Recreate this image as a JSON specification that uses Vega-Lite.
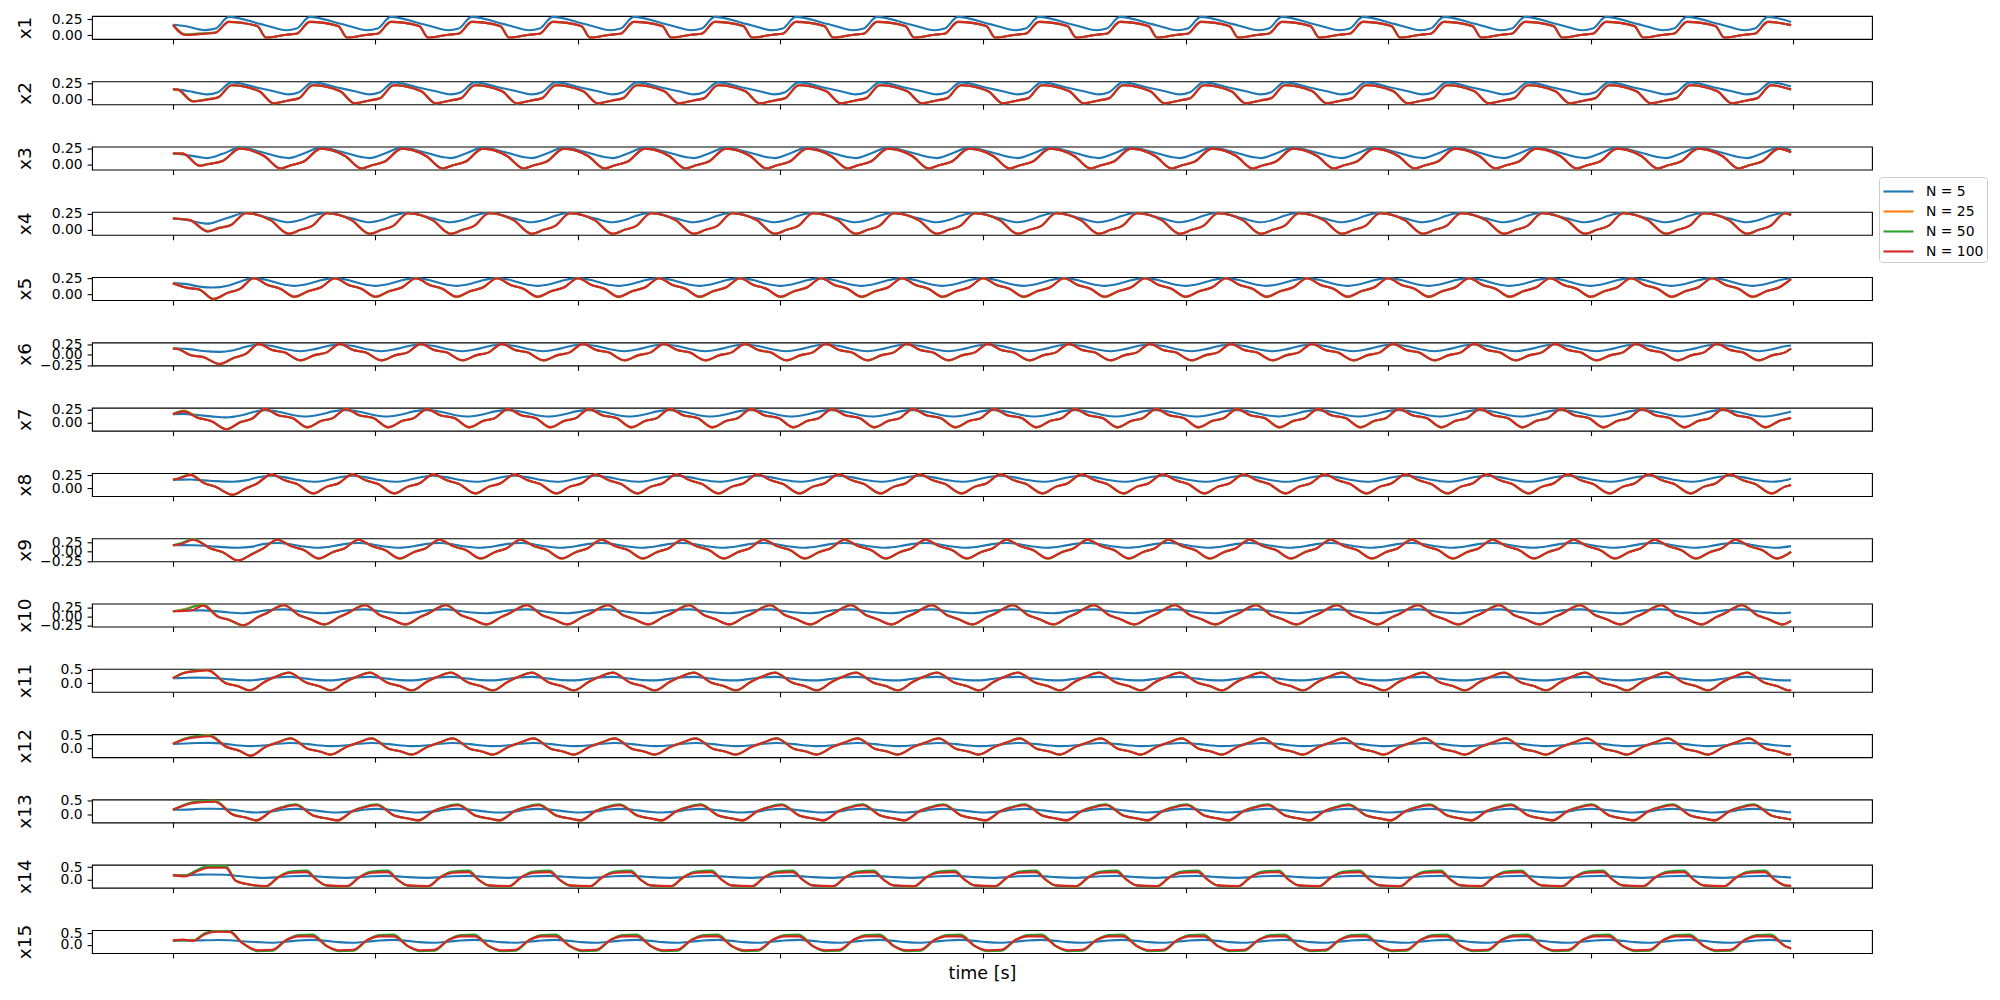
{
"$schema":"https://vega.github.io/schema/vega-lite/v6.json",
"background":"white",
"padding":{"left":14,"top":11,"right":10,"bottom":10},
"bounds":"flush",
"spacing":42.29,
"config":{
"font":"DejaVu Sans",
"view":{"stroke":"black","strokeWidth":1.1},
"axis":{"domain":false,"grid":false,"labelOverlap":false,"tickColor":"black","tickWidth":1.1,"tickSize":4.9,"labelFont":"DejaVu Sans","labelFontSize":13.9,"labelColor":"black","labelPadding":4.9,"titleFont":"DejaVu Sans","titleFontWeight":"normal","titleColor":"black","titleFontSize":17.5},
"axisY":{"titleX":-68,"titleY":11.5,"titleAngle":270,"titleAlign":"center","titleBaseline":"middle","titleFontSize":18.5},
"axisX":{"titlePadding":6},
"line":{"strokeWidth":2.1,"interpolate":"monotone"},
"legend":{"orient":"none","legendX":1787,"legendY":161,"symbolType":"M-1,0H2","symbolSize":400,"symbolStrokeWidth":2.1,"labelFont":"DejaVu Sans","labelFontSize":13.9,"labelColor":"black","labelOffset":21,"rowPadding":1,"padding":3,"strokeColor":"#cccccc","fillColor":"white","cornerRadius":3}
},
"data":{"values":[
{"v":"x1",
"t":[0,0.3,0.8,1.05,1.38,2.08,2.3,2.8,3.05,3.38,4.08,4.3,4.8,5.05,5.38,6.08,6.3,6.8,7.05,7.38,8.08,8.3,8.8,9.05,9.38,10.08,10.3,10.8,11.05,11.38,12.08,12.3,12.8,13.05,13.38,14.08,14.3,14.8,15.05,15.38,16.08,16.3,16.8,17.05,17.38,18.08,18.3,18.8,19.05,19.38,20.08,20.3,20.8,21.05,21.38,22.08,22.3,22.8,23.05,23.38,24.08,24.3,24.8,25.05,25.38,26.08,26.3,26.8,27.05,27.38,28.08,28.3,28.8,29.05,29.38,30.08,30.3,30.8,31.05,31.38,32.08,32.3,32.8,33.05,33.38,34.08,34.3,34.8,35.05,35.38,36.08,36.3,36.8,37.05,37.38,38.08,38.3,38.8,39.05,39.38,39.95],
"N = 5":[0.16,0.14,0.077,0.1,0.283,0.185,0.15,0.075,0.1,0.283,0.185,0.15,0.075,0.1,0.283,0.185,0.15,0.075,0.1,0.283,0.185,0.15,0.075,0.1,0.283,0.185,0.15,0.075,0.1,0.283,0.185,0.15,0.075,0.1,0.283,0.185,0.15,0.075,0.1,0.283,0.185,0.15,0.075,0.1,0.283,0.185,0.15,0.075,0.1,0.283,0.185,0.15,0.075,0.1,0.283,0.185,0.15,0.075,0.1,0.283,0.185,0.15,0.075,0.1,0.283,0.185,0.15,0.075,0.1,0.283,0.185,0.15,0.075,0.1,0.283,0.185,0.15,0.075,0.1,0.283,0.185,0.15,0.075,0.1,0.283,0.185,0.15,0.075,0.1,0.283,0.185,0.15,0.075,0.1,0.283,0.185,0.15,0.075,0.1,0.283,0.204],
"N = 25":[0.16,0.01,0.028,0.04,0.205,0.142,-0.04,0.005,0.02,0.205,0.142,-0.04,0.005,0.02,0.205,0.142,-0.04,0.005,0.02,0.205,0.142,-0.04,0.005,0.02,0.205,0.142,-0.04,0.005,0.02,0.205,0.142,-0.04,0.005,0.02,0.205,0.142,-0.04,0.005,0.02,0.205,0.142,-0.04,0.005,0.02,0.205,0.142,-0.04,0.005,0.02,0.205,0.142,-0.04,0.005,0.02,0.205,0.142,-0.04,0.005,0.02,0.205,0.142,-0.04,0.005,0.02,0.205,0.142,-0.04,0.005,0.02,0.205,0.142,-0.04,0.005,0.02,0.205,0.142,-0.04,0.005,0.02,0.205,0.142,-0.04,0.005,0.02,0.205,0.142,-0.04,0.005,0.02,0.205,0.142,-0.04,0.005,0.02,0.205,0.142,-0.04,0.005,0.02,0.205,0.154],
"N = 50":[0.16,0.008,0.025,0.038,0.205,0.142,-0.04,0.005,0.02,0.205,0.142,-0.04,0.005,0.02,0.205,0.142,-0.04,0.005,0.02,0.205,0.142,-0.04,0.005,0.02,0.205,0.142,-0.04,0.005,0.02,0.205,0.142,-0.04,0.005,0.02,0.205,0.142,-0.04,0.005,0.02,0.205,0.142,-0.04,0.005,0.02,0.205,0.142,-0.04,0.005,0.02,0.205,0.142,-0.04,0.005,0.02,0.205,0.142,-0.04,0.005,0.02,0.205,0.142,-0.04,0.005,0.02,0.205,0.142,-0.04,0.005,0.02,0.205,0.142,-0.04,0.005,0.02,0.205,0.142,-0.04,0.005,0.02,0.205,0.142,-0.04,0.005,0.02,0.205,0.142,-0.04,0.005,0.02,0.205,0.142,-0.04,0.005,0.02,0.205,0.142,-0.04,0.005,0.02,0.205,0.154],
"N = 100":[0.16,0,0.02,0.035,0.205,0.142,-0.04,0.005,0.02,0.205,0.142,-0.04,0.005,0.02,0.205,0.142,-0.04,0.005,0.02,0.205,0.142,-0.04,0.005,0.02,0.205,0.142,-0.04,0.005,0.02,0.205,0.142,-0.04,0.005,0.02,0.205,0.142,-0.04,0.005,0.02,0.205,0.142,-0.04,0.005,0.02,0.205,0.142,-0.04,0.005,0.02,0.205,0.142,-0.04,0.005,0.02,0.205,0.142,-0.04,0.005,0.02,0.205,0.142,-0.04,0.005,0.02,0.205,0.142,-0.04,0.005,0.02,0.205,0.142,-0.04,0.005,0.02,0.205,0.142,-0.04,0.005,0.02,0.205,0.142,-0.04,0.005,0.02,0.205,0.142,-0.04,0.005,0.02,0.205,0.142,-0.04,0.005,0.02,0.205,0.142,-0.04,0.005,0.02,0.205,0.154]},
{"v":"x2",
"t":[0,0.12,0.49,0.85,1.11,1.45,2.12,2.49,2.85,3.11,3.45,4.12,4.49,4.85,5.11,5.45,6.12,6.49,6.85,7.11,7.45,8.12,8.49,8.85,9.11,9.45,10.12,10.49,10.85,11.11,11.45,12.12,12.49,12.85,13.11,13.45,14.12,14.49,14.85,15.11,15.45,16.12,16.49,16.85,17.11,17.45,18.12,18.49,18.85,19.11,19.45,20.12,20.49,20.85,21.11,21.45,22.12,22.49,22.85,23.11,23.45,24.12,24.49,24.85,25.11,25.45,26.12,26.49,26.85,27.11,27.45,28.12,28.49,28.85,29.11,29.45,30.12,30.49,30.85,31.11,31.45,32.12,32.49,32.85,33.11,33.45,34.12,34.49,34.85,35.11,35.45,36.12,36.49,36.85,37.11,37.45,38.12,38.49,38.85,39.11,39.45,39.95],
"N = 5":[0.16,0.155,0.12,0.08,0.115,0.27,0.18,0.129,0.08,0.115,0.27,0.18,0.129,0.08,0.115,0.27,0.18,0.129,0.08,0.115,0.27,0.18,0.129,0.08,0.115,0.27,0.18,0.129,0.08,0.115,0.27,0.18,0.129,0.08,0.115,0.27,0.18,0.129,0.08,0.115,0.27,0.18,0.129,0.08,0.115,0.27,0.18,0.129,0.08,0.115,0.27,0.18,0.129,0.08,0.115,0.27,0.18,0.129,0.08,0.115,0.27,0.18,0.129,0.08,0.115,0.27,0.18,0.129,0.08,0.115,0.27,0.18,0.129,0.08,0.115,0.27,0.18,0.129,0.08,0.115,0.27,0.18,0.129,0.08,0.115,0.27,0.18,0.129,0.08,0.115,0.27,0.18,0.129,0.08,0.115,0.27,0.18,0.129,0.08,0.115,0.27,0.203],
"N = 25":[0.16,0.155,-0.025,0.005,0.034,0.225,0.134,-0.062,-0.016,0.018,0.225,0.134,-0.062,-0.016,0.018,0.225,0.134,-0.062,-0.016,0.018,0.225,0.134,-0.062,-0.016,0.018,0.225,0.134,-0.062,-0.016,0.018,0.225,0.134,-0.062,-0.016,0.018,0.225,0.134,-0.062,-0.016,0.018,0.225,0.134,-0.062,-0.016,0.018,0.225,0.134,-0.062,-0.016,0.018,0.225,0.134,-0.062,-0.016,0.018,0.225,0.134,-0.062,-0.016,0.018,0.225,0.134,-0.062,-0.016,0.018,0.225,0.134,-0.062,-0.016,0.018,0.225,0.134,-0.062,-0.016,0.018,0.225,0.134,-0.062,-0.016,0.018,0.225,0.134,-0.062,-0.016,0.018,0.225,0.134,-0.062,-0.016,0.018,0.225,0.134,-0.062,-0.016,0.018,0.225,0.134,-0.062,-0.016,0.018,0.225,0.157],
"N = 50":[0.16,0.155,-0.028,0.002,0.03,0.225,0.134,-0.062,-0.016,0.018,0.225,0.134,-0.062,-0.016,0.018,0.225,0.134,-0.062,-0.016,0.018,0.225,0.134,-0.062,-0.016,0.018,0.225,0.134,-0.062,-0.016,0.018,0.225,0.134,-0.062,-0.016,0.018,0.225,0.134,-0.062,-0.016,0.018,0.225,0.134,-0.062,-0.016,0.018,0.225,0.134,-0.062,-0.016,0.018,0.225,0.134,-0.062,-0.016,0.018,0.225,0.134,-0.062,-0.016,0.018,0.225,0.134,-0.062,-0.016,0.018,0.225,0.134,-0.062,-0.016,0.018,0.225,0.134,-0.062,-0.016,0.018,0.225,0.134,-0.062,-0.016,0.018,0.225,0.134,-0.062,-0.016,0.018,0.225,0.134,-0.062,-0.016,0.018,0.225,0.134,-0.062,-0.016,0.018,0.225,0.134,-0.062,-0.016,0.018,0.225,0.157],
"N = 100":[0.16,0.155,-0.033,-0.005,0.029,0.225,0.134,-0.062,-0.016,0.018,0.225,0.134,-0.062,-0.016,0.018,0.225,0.134,-0.062,-0.016,0.018,0.225,0.134,-0.062,-0.016,0.018,0.225,0.134,-0.062,-0.016,0.018,0.225,0.134,-0.062,-0.016,0.018,0.225,0.134,-0.062,-0.016,0.018,0.225,0.134,-0.062,-0.016,0.018,0.225,0.134,-0.062,-0.016,0.018,0.225,0.134,-0.062,-0.016,0.018,0.225,0.134,-0.062,-0.016,0.018,0.225,0.134,-0.062,-0.016,0.018,0.225,0.134,-0.062,-0.016,0.018,0.225,0.134,-0.062,-0.016,0.018,0.225,0.134,-0.062,-0.016,0.018,0.225,0.134,-0.062,-0.016,0.018,0.225,0.134,-0.062,-0.016,0.018,0.225,0.134,-0.062,-0.016,0.018,0.225,0.134,-0.062,-0.016,0.018,0.225,0.157]},
{"v":"x3",
"t":[0,0.25,0.66,0.86,1.23,1.65,2.25,2.66,2.86,3.23,3.65,4.25,4.66,4.86,5.23,5.65,6.25,6.66,6.86,7.23,7.65,8.25,8.66,8.86,9.23,9.65,10.25,10.66,10.86,11.23,11.65,12.25,12.66,12.86,13.23,13.65,14.25,14.66,14.86,15.23,15.65,16.25,16.66,16.86,17.23,17.65,18.25,18.66,18.86,19.23,19.65,20.25,20.66,20.86,21.23,21.65,22.25,22.66,22.86,23.23,23.65,24.25,24.66,24.86,25.23,25.65,26.25,26.66,26.86,27.23,27.65,28.25,28.66,28.86,29.23,29.65,30.25,30.66,30.86,31.23,31.65,32.25,32.66,32.86,33.23,33.65,34.25,34.66,34.86,35.23,35.65,36.25,36.66,36.86,37.23,37.65,38.25,38.66,38.86,39.23,39.65,39.95],
"N = 5":[0.17,0.155,0.115,0.1,0.165,0.26,0.182,0.115,0.1,0.17,0.26,0.182,0.115,0.1,0.17,0.26,0.182,0.115,0.1,0.17,0.26,0.182,0.115,0.1,0.17,0.26,0.182,0.115,0.1,0.17,0.26,0.182,0.115,0.1,0.17,0.26,0.182,0.115,0.1,0.17,0.26,0.182,0.115,0.1,0.17,0.26,0.182,0.115,0.1,0.17,0.26,0.182,0.115,0.1,0.17,0.26,0.182,0.115,0.1,0.17,0.26,0.182,0.115,0.1,0.17,0.26,0.182,0.115,0.1,0.17,0.26,0.182,0.115,0.1,0.17,0.26,0.182,0.115,0.1,0.17,0.26,0.182,0.115,0.1,0.17,0.26,0.182,0.115,0.1,0.17,0.26,0.182,0.115,0.1,0.17,0.26,0.182,0.115,0.1,0.17,0.26,0.221],
"N = 25":[0.17,0.168,-0.012,0.01,0.06,0.244,0.132,-0.06,-0.02,0.047,0.244,0.132,-0.06,-0.02,0.047,0.244,0.132,-0.06,-0.02,0.047,0.244,0.132,-0.06,-0.02,0.047,0.244,0.132,-0.06,-0.02,0.047,0.244,0.132,-0.06,-0.02,0.047,0.244,0.132,-0.06,-0.02,0.047,0.244,0.132,-0.06,-0.02,0.047,0.244,0.132,-0.06,-0.02,0.047,0.244,0.132,-0.06,-0.02,0.047,0.244,0.132,-0.06,-0.02,0.047,0.244,0.132,-0.06,-0.02,0.047,0.244,0.132,-0.06,-0.02,0.047,0.244,0.132,-0.06,-0.02,0.047,0.244,0.132,-0.06,-0.02,0.047,0.244,0.132,-0.06,-0.02,0.047,0.244,0.132,-0.06,-0.02,0.047,0.244,0.132,-0.06,-0.02,0.047,0.244,0.132,-0.06,-0.02,0.047,0.244,0.188],
"N = 50":[0.17,0.168,-0.016,0.008,0.057,0.244,0.132,-0.06,-0.02,0.047,0.244,0.132,-0.06,-0.02,0.047,0.244,0.132,-0.06,-0.02,0.047,0.244,0.132,-0.06,-0.02,0.047,0.244,0.132,-0.06,-0.02,0.047,0.244,0.132,-0.06,-0.02,0.047,0.244,0.132,-0.06,-0.02,0.047,0.244,0.132,-0.06,-0.02,0.047,0.244,0.132,-0.06,-0.02,0.047,0.244,0.132,-0.06,-0.02,0.047,0.244,0.132,-0.06,-0.02,0.047,0.244,0.132,-0.06,-0.02,0.047,0.244,0.132,-0.06,-0.02,0.047,0.244,0.132,-0.06,-0.02,0.047,0.244,0.132,-0.06,-0.02,0.047,0.244,0.132,-0.06,-0.02,0.047,0.244,0.132,-0.06,-0.02,0.047,0.244,0.132,-0.06,-0.02,0.047,0.244,0.132,-0.06,-0.02,0.047,0.244,0.188],
"N = 100":[0.17,0.168,-0.02,0.005,0.055,0.244,0.132,-0.06,-0.02,0.047,0.244,0.132,-0.06,-0.02,0.047,0.244,0.132,-0.06,-0.02,0.047,0.244,0.132,-0.06,-0.02,0.047,0.244,0.132,-0.06,-0.02,0.047,0.244,0.132,-0.06,-0.02,0.047,0.244,0.132,-0.06,-0.02,0.047,0.244,0.132,-0.06,-0.02,0.047,0.244,0.132,-0.06,-0.02,0.047,0.244,0.132,-0.06,-0.02,0.047,0.244,0.132,-0.06,-0.02,0.047,0.244,0.132,-0.06,-0.02,0.047,0.244,0.132,-0.06,-0.02,0.047,0.244,0.132,-0.06,-0.02,0.047,0.244,0.132,-0.06,-0.02,0.047,0.244,0.132,-0.06,-0.02,0.047,0.244,0.132,-0.06,-0.02,0.047,0.244,0.132,-0.06,-0.02,0.047,0.244,0.132,-0.06,-0.02,0.047,0.244,0.188]},
{"v":"x4",
"t":[0,0.41,0.86,1.15,1.44,1.8,2.41,2.86,3.15,3.44,3.8,4.41,4.86,5.15,5.44,5.8,6.41,6.86,7.15,7.44,7.8,8.41,8.86,9.15,9.44,9.8,10.41,10.86,11.15,11.44,11.8,12.41,12.86,13.15,13.44,13.8,14.41,14.86,15.15,15.44,15.8,16.41,16.86,17.15,17.44,17.8,18.41,18.86,19.15,19.44,19.8,20.41,20.86,21.15,21.44,21.8,22.41,22.86,23.15,23.44,23.8,24.41,24.86,25.15,25.44,25.8,26.41,26.86,27.15,27.44,27.8,28.41,28.86,29.15,29.44,29.8,30.41,30.86,31.15,31.44,31.8,32.41,32.86,33.15,33.44,33.8,34.41,34.86,35.15,35.44,35.8,36.41,36.86,37.15,37.44,37.8,38.41,38.86,39.15,39.44,39.8,39.95],
"N = 5":[0.171,0.14,0.091,0.14,0.2,0.262,0.174,0.113,0.147,0.215,0.262,0.174,0.113,0.147,0.215,0.262,0.174,0.113,0.147,0.215,0.262,0.174,0.113,0.147,0.215,0.262,0.174,0.113,0.147,0.215,0.262,0.174,0.113,0.147,0.215,0.262,0.174,0.113,0.147,0.215,0.262,0.174,0.113,0.147,0.215,0.262,0.174,0.113,0.147,0.215,0.262,0.174,0.113,0.147,0.215,0.262,0.174,0.113,0.147,0.215,0.262,0.174,0.113,0.147,0.215,0.262,0.174,0.113,0.147,0.215,0.262,0.174,0.113,0.147,0.215,0.262,0.174,0.113,0.147,0.215,0.262,0.174,0.113,0.147,0.215,0.262,0.174,0.113,0.147,0.215,0.262,0.174,0.113,0.147,0.215,0.262,0.174,0.113,0.147,0.215,0.262,0.24],
"N = 25":[0.171,0.15,-0.025,0.028,0.075,0.255,0.146,-0.07,-0.007,0.055,0.255,0.146,-0.07,-0.007,0.055,0.255,0.146,-0.07,-0.007,0.055,0.255,0.146,-0.07,-0.007,0.055,0.255,0.146,-0.07,-0.007,0.055,0.255,0.146,-0.07,-0.007,0.055,0.255,0.146,-0.07,-0.007,0.055,0.255,0.146,-0.07,-0.007,0.055,0.255,0.146,-0.07,-0.007,0.055,0.255,0.146,-0.07,-0.007,0.055,0.255,0.146,-0.07,-0.007,0.055,0.255,0.146,-0.07,-0.007,0.055,0.255,0.146,-0.07,-0.007,0.055,0.255,0.146,-0.07,-0.007,0.055,0.255,0.146,-0.07,-0.007,0.055,0.255,0.146,-0.07,-0.007,0.055,0.255,0.146,-0.07,-0.007,0.055,0.255,0.146,-0.07,-0.007,0.055,0.255,0.146,-0.07,-0.007,0.055,0.255,0.228],
"N = 50":[0.171,0.148,-0.03,0.024,0.072,0.255,0.146,-0.07,-0.007,0.055,0.255,0.146,-0.07,-0.007,0.055,0.255,0.146,-0.07,-0.007,0.055,0.255,0.146,-0.07,-0.007,0.055,0.255,0.146,-0.07,-0.007,0.055,0.255,0.146,-0.07,-0.007,0.055,0.255,0.146,-0.07,-0.007,0.055,0.255,0.146,-0.07,-0.007,0.055,0.255,0.146,-0.07,-0.007,0.055,0.255,0.146,-0.07,-0.007,0.055,0.255,0.146,-0.07,-0.007,0.055,0.255,0.146,-0.07,-0.007,0.055,0.255,0.146,-0.07,-0.007,0.055,0.255,0.146,-0.07,-0.007,0.055,0.255,0.146,-0.07,-0.007,0.055,0.255,0.146,-0.07,-0.007,0.055,0.255,0.146,-0.07,-0.007,0.055,0.255,0.146,-0.07,-0.007,0.055,0.255,0.146,-0.07,-0.007,0.055,0.255,0.228],
"N = 100":[0.171,0.146,-0.036,0.02,0.07,0.255,0.146,-0.07,-0.007,0.055,0.255,0.146,-0.07,-0.007,0.055,0.255,0.146,-0.07,-0.007,0.055,0.255,0.146,-0.07,-0.007,0.055,0.255,0.146,-0.07,-0.007,0.055,0.255,0.146,-0.07,-0.007,0.055,0.255,0.146,-0.07,-0.007,0.055,0.255,0.146,-0.07,-0.007,0.055,0.255,0.146,-0.07,-0.007,0.055,0.255,0.146,-0.07,-0.007,0.055,0.255,0.146,-0.07,-0.007,0.055,0.255,0.146,-0.07,-0.007,0.055,0.255,0.146,-0.07,-0.007,0.055,0.255,0.146,-0.07,-0.007,0.055,0.255,0.146,-0.07,-0.007,0.055,0.255,0.146,-0.07,-0.007,0.055,0.255,0.146,-0.07,-0.007,0.055,0.255,0.146,-0.07,-0.007,0.055,0.255,0.146,-0.07,-0.007,0.055,0.255,0.228]},
{"v":"x5",
"t":[0,0.35,0.65,1,1.35,1.65,2,2.35,2.65,3,3.35,3.65,4,4.35,4.65,5,5.35,5.65,6,6.35,6.65,7,7.35,7.65,8,8.35,8.65,9,9.35,9.65,10,10.35,10.65,11,11.35,11.65,12,12.35,12.65,13,13.35,13.65,14,14.35,14.65,15,15.35,15.65,16,16.35,16.65,17,17.35,17.65,18,18.35,18.65,19,19.35,19.65,20,20.35,20.65,21,21.35,21.65,22,22.35,22.65,23,23.35,23.65,24,24.35,24.65,25,25.35,25.65,26,26.35,26.65,27,27.35,27.65,28,28.35,28.65,29,29.35,29.65,30,30.35,30.65,31,31.35,31.65,32,32.35,32.65,33,33.35,33.65,34,34.35,34.65,35,35.35,35.65,36,36.35,36.65,37,37.35,37.65,38,38.35,38.65,39,39.35,39.65,39.95],
"N = 5":[0.176,0.16,0.12,0.106,0.135,0.2,0.257,0.223,0.166,0.132,0.166,0.223,0.257,0.223,0.166,0.132,0.166,0.223,0.257,0.223,0.166,0.132,0.166,0.223,0.257,0.223,0.166,0.132,0.166,0.223,0.257,0.223,0.166,0.132,0.166,0.223,0.257,0.223,0.166,0.132,0.166,0.223,0.257,0.223,0.166,0.132,0.166,0.223,0.257,0.223,0.166,0.132,0.166,0.223,0.257,0.223,0.166,0.132,0.166,0.223,0.257,0.223,0.166,0.132,0.166,0.223,0.257,0.223,0.166,0.132,0.166,0.223,0.257,0.223,0.166,0.132,0.166,0.223,0.257,0.223,0.166,0.132,0.166,0.223,0.257,0.223,0.166,0.132,0.166,0.223,0.257,0.223,0.166,0.132,0.166,0.223,0.257,0.223,0.166,0.132,0.166,0.223,0.257,0.223,0.166,0.132,0.166,0.223,0.257,0.223,0.166,0.132,0.166,0.223,0.257,0.223,0.166,0.132,0.166,0.223,0.255],
"N = 25":[0.176,0.105,0.075,-0.085,0.02,0.085,0.255,0.143,0.087,-0.048,0.05,0.106,0.255,0.143,0.087,-0.048,0.05,0.106,0.255,0.143,0.087,-0.048,0.05,0.106,0.255,0.143,0.087,-0.048,0.05,0.106,0.255,0.143,0.087,-0.048,0.05,0.106,0.255,0.143,0.087,-0.048,0.05,0.106,0.255,0.143,0.087,-0.048,0.05,0.106,0.255,0.143,0.087,-0.048,0.05,0.106,0.255,0.143,0.087,-0.048,0.05,0.106,0.255,0.143,0.087,-0.048,0.05,0.106,0.255,0.143,0.087,-0.048,0.05,0.106,0.255,0.143,0.087,-0.048,0.05,0.106,0.255,0.143,0.087,-0.048,0.05,0.106,0.255,0.143,0.087,-0.048,0.05,0.106,0.255,0.143,0.087,-0.048,0.05,0.106,0.255,0.143,0.087,-0.048,0.05,0.106,0.255,0.143,0.087,-0.048,0.05,0.106,0.255,0.143,0.087,-0.048,0.05,0.106,0.255,0.143,0.087,-0.048,0.05,0.106,0.24],
"N = 50":[0.176,0.102,0.075,-0.08,0.02,0.082,0.255,0.143,0.087,-0.043,0.05,0.106,0.255,0.143,0.087,-0.043,0.05,0.106,0.255,0.143,0.087,-0.043,0.05,0.106,0.255,0.143,0.087,-0.043,0.05,0.106,0.255,0.143,0.087,-0.043,0.05,0.106,0.255,0.143,0.087,-0.043,0.05,0.106,0.255,0.143,0.087,-0.043,0.05,0.106,0.255,0.143,0.087,-0.043,0.05,0.106,0.255,0.143,0.087,-0.043,0.05,0.106,0.255,0.143,0.087,-0.043,0.05,0.106,0.255,0.143,0.087,-0.043,0.05,0.106,0.255,0.143,0.087,-0.043,0.05,0.106,0.255,0.143,0.087,-0.043,0.05,0.106,0.255,0.143,0.087,-0.043,0.05,0.106,0.255,0.143,0.087,-0.043,0.05,0.106,0.255,0.143,0.087,-0.043,0.05,0.106,0.255,0.143,0.087,-0.043,0.05,0.106,0.255,0.143,0.087,-0.043,0.05,0.106,0.255,0.143,0.087,-0.043,0.05,0.106,0.24],
"N = 100":[0.176,0.1,0.075,-0.075,0.02,0.08,0.255,0.143,0.087,-0.038,0.05,0.106,0.255,0.143,0.087,-0.038,0.05,0.106,0.255,0.143,0.087,-0.038,0.05,0.106,0.255,0.143,0.087,-0.038,0.05,0.106,0.255,0.143,0.087,-0.038,0.05,0.106,0.255,0.143,0.087,-0.038,0.05,0.106,0.255,0.143,0.087,-0.038,0.05,0.106,0.255,0.143,0.087,-0.038,0.05,0.106,0.255,0.143,0.087,-0.038,0.05,0.106,0.255,0.143,0.087,-0.038,0.05,0.106,0.255,0.143,0.087,-0.038,0.05,0.106,0.255,0.143,0.087,-0.038,0.05,0.106,0.255,0.143,0.087,-0.038,0.05,0.106,0.255,0.143,0.087,-0.038,0.05,0.106,0.255,0.143,0.087,-0.038,0.05,0.106,0.255,0.143,0.087,-0.038,0.05,0.106,0.255,0.143,0.087,-0.038,0.05,0.106,0.255,0.143,0.087,-0.038,0.05,0.106,0.255,0.143,0.087,-0.038,0.05,0.106,0.24]},
{"v":"x6",
"t":[0,0.12,0.45,0.75,1.15,1.5,1.8,2.12,2.45,2.75,3.15,3.5,3.8,4.12,4.45,4.75,5.15,5.5,5.8,6.12,6.45,6.75,7.15,7.5,7.8,8.12,8.45,8.75,9.15,9.5,9.8,10.12,10.45,10.75,11.15,11.5,11.8,12.12,12.45,12.75,13.15,13.5,13.8,14.12,14.45,14.75,15.15,15.5,15.8,16.12,16.45,16.75,17.15,17.5,17.8,18.12,18.45,18.75,19.15,19.5,19.8,20.12,20.45,20.75,21.15,21.5,21.8,22.12,22.45,22.75,23.15,23.5,23.8,24.12,24.45,24.75,25.15,25.5,25.8,26.12,26.45,26.75,27.15,27.5,27.8,28.12,28.45,28.75,29.15,29.5,29.8,30.12,30.45,30.75,31.15,31.5,31.8,32.12,32.45,32.75,33.15,33.5,33.8,34.12,34.45,34.75,35.15,35.5,35.8,36.12,36.45,36.75,37.15,37.5,37.8,38.12,38.45,38.75,39.15,39.5,39.8,39.95],
"N = 5":[0.152,0.15,0.13,0.09,0.07,0.11,0.19,0.245,0.208,0.139,0.086,0.135,0.205,0.245,0.208,0.139,0.086,0.135,0.205,0.245,0.208,0.139,0.086,0.135,0.205,0.245,0.208,0.139,0.086,0.135,0.205,0.245,0.208,0.139,0.086,0.135,0.205,0.245,0.208,0.139,0.086,0.135,0.205,0.245,0.208,0.139,0.086,0.135,0.205,0.245,0.208,0.139,0.086,0.135,0.205,0.245,0.208,0.139,0.086,0.135,0.205,0.245,0.208,0.139,0.086,0.135,0.205,0.245,0.208,0.139,0.086,0.135,0.205,0.245,0.208,0.139,0.086,0.135,0.205,0.245,0.208,0.139,0.086,0.135,0.205,0.245,0.208,0.139,0.086,0.135,0.205,0.245,0.208,0.139,0.086,0.135,0.205,0.245,0.208,0.139,0.086,0.135,0.205,0.245,0.208,0.139,0.086,0.135,0.205,0.245,0.208,0.139,0.086,0.135,0.205,0.245,0.208,0.139,0.086,0.135,0.205,0.224],
"N = 25":[0.152,0.14,-0.005,-0.05,-0.225,-0.08,0.02,0.262,0.113,0.058,-0.138,-0.008,0.058,0.262,0.113,0.058,-0.138,-0.008,0.058,0.262,0.113,0.058,-0.138,-0.008,0.058,0.262,0.113,0.058,-0.138,-0.008,0.058,0.262,0.113,0.058,-0.138,-0.008,0.058,0.262,0.113,0.058,-0.138,-0.008,0.058,0.262,0.113,0.058,-0.138,-0.008,0.058,0.262,0.113,0.058,-0.138,-0.008,0.058,0.262,0.113,0.058,-0.138,-0.008,0.058,0.262,0.113,0.058,-0.138,-0.008,0.058,0.262,0.113,0.058,-0.138,-0.008,0.058,0.262,0.113,0.058,-0.138,-0.008,0.058,0.262,0.113,0.058,-0.138,-0.008,0.058,0.262,0.113,0.058,-0.138,-0.008,0.058,0.262,0.113,0.058,-0.138,-0.008,0.058,0.262,0.113,0.058,-0.138,-0.008,0.058,0.262,0.113,0.058,-0.138,-0.008,0.058,0.262,0.113,0.058,-0.138,-0.008,0.058,0.262,0.113,0.058,-0.138,-0.008,0.058,0.15],
"N = 50":[0.152,0.14,-0.012,-0.053,-0.221,-0.077,0.02,0.262,0.113,0.058,-0.133,-0.008,0.058,0.262,0.113,0.058,-0.133,-0.008,0.058,0.262,0.113,0.058,-0.133,-0.008,0.058,0.262,0.113,0.058,-0.133,-0.008,0.058,0.262,0.113,0.058,-0.133,-0.008,0.058,0.262,0.113,0.058,-0.133,-0.008,0.058,0.262,0.113,0.058,-0.133,-0.008,0.058,0.262,0.113,0.058,-0.133,-0.008,0.058,0.262,0.113,0.058,-0.133,-0.008,0.058,0.262,0.113,0.058,-0.133,-0.008,0.058,0.262,0.113,0.058,-0.133,-0.008,0.058,0.262,0.113,0.058,-0.133,-0.008,0.058,0.262,0.113,0.058,-0.133,-0.008,0.058,0.262,0.113,0.058,-0.133,-0.008,0.058,0.262,0.113,0.058,-0.133,-0.008,0.058,0.262,0.113,0.058,-0.133,-0.008,0.058,0.262,0.113,0.058,-0.133,-0.008,0.058,0.262,0.113,0.058,-0.133,-0.008,0.058,0.262,0.113,0.058,-0.133,-0.008,0.058,0.15],
"N = 100":[0.152,0.14,-0.019,-0.057,-0.217,-0.074,0.02,0.262,0.113,0.058,-0.128,-0.008,0.058,0.262,0.113,0.058,-0.128,-0.008,0.058,0.262,0.113,0.058,-0.128,-0.008,0.058,0.262,0.113,0.058,-0.128,-0.008,0.058,0.262,0.113,0.058,-0.128,-0.008,0.058,0.262,0.113,0.058,-0.128,-0.008,0.058,0.262,0.113,0.058,-0.128,-0.008,0.058,0.262,0.113,0.058,-0.128,-0.008,0.058,0.262,0.113,0.058,-0.128,-0.008,0.058,0.262,0.113,0.058,-0.128,-0.008,0.058,0.262,0.113,0.058,-0.128,-0.008,0.058,0.262,0.113,0.058,-0.128,-0.008,0.058,0.262,0.113,0.058,-0.128,-0.008,0.058,0.262,0.113,0.058,-0.128,-0.008,0.058,0.262,0.113,0.058,-0.128,-0.008,0.058,0.262,0.113,0.058,-0.128,-0.008,0.058,0.262,0.113,0.058,-0.128,-0.008,0.058,0.262,0.113,0.058,-0.128,-0.008,0.058,0.262,0.113,0.058,-0.128,-0.008,0.058,0.15]},
{"v":"x7",
"t":[0,0.27,0.6,0.95,1.32,1.67,1.95,2.27,2.6,2.95,3.32,3.67,3.95,4.27,4.6,4.95,5.32,5.67,5.95,6.27,6.6,6.95,7.32,7.67,7.95,8.27,8.6,8.95,9.32,9.67,9.95,10.27,10.6,10.95,11.32,11.67,11.95,12.27,12.6,12.95,13.32,13.67,13.95,14.27,14.6,14.95,15.32,15.67,15.95,16.27,16.6,16.95,17.32,17.67,17.95,18.27,18.6,18.95,19.32,19.67,19.95,20.27,20.6,20.95,21.32,21.67,21.95,22.27,22.6,22.95,23.32,23.67,23.95,24.27,24.6,24.95,25.32,25.67,25.95,26.27,26.6,26.95,27.32,27.67,27.95,28.27,28.6,28.95,29.32,29.67,29.95,30.27,30.6,30.95,31.32,31.67,31.95,32.27,32.6,32.95,33.32,33.67,33.95,34.27,34.6,34.95,35.32,35.67,35.95,36.27,36.6,36.95,37.32,37.67,37.95,38.27,38.6,38.95,39.32,39.67,39.95],
"N = 5":[0.167,0.17,0.15,0.125,0.105,0.14,0.2,0.244,0.215,0.152,0.123,0.166,0.22,0.244,0.215,0.152,0.123,0.166,0.22,0.244,0.215,0.152,0.123,0.166,0.22,0.244,0.215,0.152,0.123,0.166,0.22,0.244,0.215,0.152,0.123,0.166,0.22,0.244,0.215,0.152,0.123,0.166,0.22,0.244,0.215,0.152,0.123,0.166,0.22,0.244,0.215,0.152,0.123,0.166,0.22,0.244,0.215,0.152,0.123,0.166,0.22,0.244,0.215,0.152,0.123,0.166,0.22,0.244,0.215,0.152,0.123,0.166,0.22,0.244,0.215,0.152,0.123,0.166,0.22,0.244,0.215,0.152,0.123,0.166,0.22,0.244,0.215,0.152,0.123,0.166,0.22,0.244,0.215,0.152,0.123,0.166,0.22,0.244,0.215,0.152,0.123,0.166,0.22,0.244,0.215,0.152,0.123,0.166,0.22,0.244,0.215,0.152,0.123,0.166,0.22,0.244,0.215,0.152,0.123,0.166,0.22],
"N = 25":[0.167,0.235,0.11,0.035,-0.125,0.015,0.079,0.264,0.145,0.092,-0.09,0.039,0.092,0.264,0.145,0.092,-0.09,0.039,0.092,0.264,0.145,0.092,-0.09,0.039,0.092,0.264,0.145,0.092,-0.09,0.039,0.092,0.264,0.145,0.092,-0.09,0.039,0.092,0.264,0.145,0.092,-0.09,0.039,0.092,0.264,0.145,0.092,-0.09,0.039,0.092,0.264,0.145,0.092,-0.09,0.039,0.092,0.264,0.145,0.092,-0.09,0.039,0.092,0.264,0.145,0.092,-0.09,0.039,0.092,0.264,0.145,0.092,-0.09,0.039,0.092,0.264,0.145,0.092,-0.09,0.039,0.092,0.264,0.145,0.092,-0.09,0.039,0.092,0.264,0.145,0.092,-0.09,0.039,0.092,0.264,0.145,0.092,-0.09,0.039,0.092,0.264,0.145,0.092,-0.09,0.039,0.092,0.264,0.145,0.092,-0.09,0.039,0.092,0.264,0.145,0.092,-0.09,0.039,0.092,0.264,0.145,0.092,-0.09,0.039,0.092],
"N = 50":[0.167,0.228,0.105,0.034,-0.122,0.016,0.079,0.264,0.145,0.092,-0.085,0.039,0.092,0.264,0.145,0.092,-0.085,0.039,0.092,0.264,0.145,0.092,-0.085,0.039,0.092,0.264,0.145,0.092,-0.085,0.039,0.092,0.264,0.145,0.092,-0.085,0.039,0.092,0.264,0.145,0.092,-0.085,0.039,0.092,0.264,0.145,0.092,-0.085,0.039,0.092,0.264,0.145,0.092,-0.085,0.039,0.092,0.264,0.145,0.092,-0.085,0.039,0.092,0.264,0.145,0.092,-0.085,0.039,0.092,0.264,0.145,0.092,-0.085,0.039,0.092,0.264,0.145,0.092,-0.085,0.039,0.092,0.264,0.145,0.092,-0.085,0.039,0.092,0.264,0.145,0.092,-0.085,0.039,0.092,0.264,0.145,0.092,-0.085,0.039,0.092,0.264,0.145,0.092,-0.085,0.039,0.092,0.264,0.145,0.092,-0.085,0.039,0.092,0.264,0.145,0.092,-0.085,0.039,0.092,0.264,0.145,0.092,-0.085,0.039,0.092],
"N = 100":[0.167,0.215,0.1,0.033,-0.119,0.017,0.079,0.264,0.145,0.092,-0.08,0.039,0.092,0.264,0.145,0.092,-0.08,0.039,0.092,0.264,0.145,0.092,-0.08,0.039,0.092,0.264,0.145,0.092,-0.08,0.039,0.092,0.264,0.145,0.092,-0.08,0.039,0.092,0.264,0.145,0.092,-0.08,0.039,0.092,0.264,0.145,0.092,-0.08,0.039,0.092,0.264,0.145,0.092,-0.08,0.039,0.092,0.264,0.145,0.092,-0.08,0.039,0.092,0.264,0.145,0.092,-0.08,0.039,0.092,0.264,0.145,0.092,-0.08,0.039,0.092,0.264,0.145,0.092,-0.08,0.039,0.092,0.264,0.145,0.092,-0.08,0.039,0.092,0.264,0.145,0.092,-0.08,0.039,0.092,0.264,0.145,0.092,-0.08,0.039,0.092,0.264,0.145,0.092,-0.08,0.039,0.092,0.264,0.145,0.092,-0.08,0.039,0.092,0.264,0.145,0.092,-0.08,0.039,0.092,0.264,0.145,0.092,-0.08,0.039,0.092]},
{"v":"x8",
"t":[0,0.08,0.43,0.78,1.05,1.47,1.8,2.08,2.43,2.78,3.05,3.47,3.8,4.08,4.43,4.78,5.05,5.47,5.8,6.08,6.43,6.78,7.05,7.47,7.8,8.08,8.43,8.78,9.05,9.47,9.8,10.08,10.43,10.78,11.05,11.47,11.8,12.08,12.43,12.78,13.05,13.47,13.8,14.08,14.43,14.78,15.05,15.47,15.8,16.08,16.43,16.78,17.05,17.47,17.8,18.08,18.43,18.78,19.05,19.47,19.8,20.08,20.43,20.78,21.05,21.47,21.8,22.08,22.43,22.78,23.05,23.47,23.8,24.08,24.43,24.78,25.05,25.47,25.8,26.08,26.43,26.78,27.05,27.47,27.8,28.08,28.43,28.78,29.05,29.47,29.8,30.08,30.43,30.78,31.05,31.47,31.8,32.08,32.43,32.78,33.05,33.47,33.8,34.08,34.43,34.78,35.05,35.47,35.8,36.08,36.43,36.78,37.05,37.47,37.8,38.08,38.43,38.78,39.05,39.47,39.8,39.95],
"N = 5":[0.162,0.162,0.165,0.15,0.135,0.123,0.15,0.204,0.237,0.207,0.162,0.123,0.153,0.204,0.237,0.207,0.162,0.123,0.153,0.204,0.237,0.207,0.162,0.123,0.153,0.204,0.237,0.207,0.162,0.123,0.153,0.204,0.237,0.207,0.162,0.123,0.153,0.204,0.237,0.207,0.162,0.123,0.153,0.204,0.237,0.207,0.162,0.123,0.153,0.204,0.237,0.207,0.162,0.123,0.153,0.204,0.237,0.207,0.162,0.123,0.153,0.204,0.237,0.207,0.162,0.123,0.153,0.204,0.237,0.207,0.162,0.123,0.153,0.204,0.237,0.207,0.162,0.123,0.153,0.204,0.237,0.207,0.162,0.123,0.153,0.204,0.237,0.207,0.162,0.123,0.153,0.204,0.237,0.207,0.162,0.123,0.153,0.204,0.237,0.207,0.162,0.123,0.153,0.204,0.237,0.207,0.162,0.123,0.153,0.204,0.237,0.207,0.162,0.123,0.153,0.204,0.237,0.207,0.162,0.123,0.153,0.182],
"N = 25":[0.162,0.175,0.265,0.1,0.03,-0.13,-0.005,0.09,0.264,0.145,0.085,-0.107,0.03,0.09,0.264,0.145,0.085,-0.107,0.03,0.09,0.264,0.145,0.085,-0.107,0.03,0.09,0.264,0.145,0.085,-0.107,0.03,0.09,0.264,0.145,0.085,-0.107,0.03,0.09,0.264,0.145,0.085,-0.107,0.03,0.09,0.264,0.145,0.085,-0.107,0.03,0.09,0.264,0.145,0.085,-0.107,0.03,0.09,0.264,0.145,0.085,-0.107,0.03,0.09,0.264,0.145,0.085,-0.107,0.03,0.09,0.264,0.145,0.085,-0.107,0.03,0.09,0.264,0.145,0.085,-0.107,0.03,0.09,0.264,0.145,0.085,-0.107,0.03,0.09,0.264,0.145,0.085,-0.107,0.03,0.09,0.264,0.145,0.085,-0.107,0.03,0.09,0.264,0.145,0.085,-0.107,0.03,0.09,0.264,0.145,0.085,-0.107,0.03,0.09,0.264,0.145,0.085,-0.107,0.03,0.09,0.264,0.145,0.085,-0.107,0.03,0.062],
"N = 50":[0.162,0.172,0.258,0.095,0.028,-0.127,-0.005,0.09,0.264,0.145,0.085,-0.102,0.03,0.09,0.264,0.145,0.085,-0.102,0.03,0.09,0.264,0.145,0.085,-0.102,0.03,0.09,0.264,0.145,0.085,-0.102,0.03,0.09,0.264,0.145,0.085,-0.102,0.03,0.09,0.264,0.145,0.085,-0.102,0.03,0.09,0.264,0.145,0.085,-0.102,0.03,0.09,0.264,0.145,0.085,-0.102,0.03,0.09,0.264,0.145,0.085,-0.102,0.03,0.09,0.264,0.145,0.085,-0.102,0.03,0.09,0.264,0.145,0.085,-0.102,0.03,0.09,0.264,0.145,0.085,-0.102,0.03,0.09,0.264,0.145,0.085,-0.102,0.03,0.09,0.264,0.145,0.085,-0.102,0.03,0.09,0.264,0.145,0.085,-0.102,0.03,0.09,0.264,0.145,0.085,-0.102,0.03,0.09,0.264,0.145,0.085,-0.102,0.03,0.09,0.264,0.145,0.085,-0.102,0.03,0.09,0.264,0.145,0.085,-0.102,0.03,0.062],
"N = 100":[0.162,0.17,0.25,0.092,0.026,-0.124,-0.005,0.09,0.264,0.145,0.085,-0.097,0.03,0.09,0.264,0.145,0.085,-0.097,0.03,0.09,0.264,0.145,0.085,-0.097,0.03,0.09,0.264,0.145,0.085,-0.097,0.03,0.09,0.264,0.145,0.085,-0.097,0.03,0.09,0.264,0.145,0.085,-0.097,0.03,0.09,0.264,0.145,0.085,-0.097,0.03,0.09,0.264,0.145,0.085,-0.097,0.03,0.09,0.264,0.145,0.085,-0.097,0.03,0.09,0.264,0.145,0.085,-0.097,0.03,0.09,0.264,0.145,0.085,-0.097,0.03,0.09,0.264,0.145,0.085,-0.097,0.03,0.09,0.264,0.145,0.085,-0.097,0.03,0.09,0.264,0.145,0.085,-0.097,0.03,0.09,0.264,0.145,0.085,-0.097,0.03,0.09,0.264,0.145,0.085,-0.097,0.03,0.09,0.264,0.145,0.085,-0.097,0.03,0.09,0.264,0.145,0.085,-0.097,0.03,0.09,0.264,0.145,0.085,-0.097,0.03,0.062]},
{"v":"x9",
"t":[0,0.22,0.5,0.93,1.23,1.6,1.97,2.22,2.58,2.93,3.23,3.6,3.97,4.22,4.58,4.93,5.23,5.6,5.97,6.22,6.58,6.93,7.23,7.6,7.97,8.22,8.58,8.93,9.23,9.6,9.97,10.22,10.58,10.93,11.23,11.6,11.97,12.22,12.58,12.93,13.23,13.6,13.97,14.22,14.58,14.93,15.23,15.6,15.97,16.22,16.58,16.93,17.23,17.6,17.97,18.22,18.58,18.93,19.23,19.6,19.97,20.22,20.58,20.93,21.23,21.6,21.97,22.22,22.58,22.93,23.23,23.6,23.97,24.22,24.58,24.93,25.23,25.6,25.97,26.22,26.58,26.93,27.23,27.6,27.97,28.22,28.58,28.93,29.23,29.6,29.97,30.22,30.58,30.93,31.23,31.6,31.97,32.22,32.58,32.93,33.23,33.6,33.97,34.22,34.58,34.93,35.23,35.6,35.97,36.22,36.58,36.93,37.23,37.6,37.97,38.22,38.58,38.93,39.23,39.6,39.95],
"N = 5":[0.166,0.168,0.165,0.14,0.115,0.1,0.13,0.195,0.225,0.187,0.133,0.1,0.144,0.195,0.225,0.187,0.133,0.1,0.144,0.195,0.225,0.187,0.133,0.1,0.144,0.195,0.225,0.187,0.133,0.1,0.144,0.195,0.225,0.187,0.133,0.1,0.144,0.195,0.225,0.187,0.133,0.1,0.144,0.195,0.225,0.187,0.133,0.1,0.144,0.195,0.225,0.187,0.133,0.1,0.144,0.195,0.225,0.187,0.133,0.1,0.144,0.195,0.225,0.187,0.133,0.1,0.144,0.195,0.225,0.187,0.133,0.1,0.144,0.195,0.225,0.187,0.133,0.1,0.144,0.195,0.225,0.187,0.133,0.1,0.144,0.195,0.225,0.187,0.133,0.1,0.144,0.195,0.225,0.187,0.133,0.1,0.144,0.195,0.225,0.187,0.133,0.1,0.144,0.195,0.225,0.187,0.133,0.1,0.144,0.195,0.225,0.187,0.133,0.1,0.144,0.195,0.225,0.187,0.133,0.1,0.142],
"N = 25":[0.166,0.22,0.325,0.085,-0.02,-0.24,-0.06,0.075,0.312,0.136,0.039,-0.19,-0.003,0.075,0.312,0.136,0.039,-0.19,-0.003,0.075,0.312,0.136,0.039,-0.19,-0.003,0.075,0.312,0.136,0.039,-0.19,-0.003,0.075,0.312,0.136,0.039,-0.19,-0.003,0.075,0.312,0.136,0.039,-0.19,-0.003,0.075,0.312,0.136,0.039,-0.19,-0.003,0.075,0.312,0.136,0.039,-0.19,-0.003,0.075,0.312,0.136,0.039,-0.19,-0.003,0.075,0.312,0.136,0.039,-0.19,-0.003,0.075,0.312,0.136,0.039,-0.19,-0.003,0.075,0.312,0.136,0.039,-0.19,-0.003,0.075,0.312,0.136,0.039,-0.19,-0.003,0.075,0.312,0.136,0.039,-0.19,-0.003,0.075,0.312,0.136,0.039,-0.19,-0.003,0.075,0.312,0.136,0.039,-0.19,-0.003,0.075,0.312,0.136,0.039,-0.19,-0.003,0.075,0.312,0.136,0.039,-0.19,-0.003,0.075,0.312,0.136,0.039,-0.19,-0.01],
"N = 50":[0.166,0.225,0.33,0.08,-0.018,-0.236,-0.058,0.075,0.312,0.136,0.039,-0.185,-0.003,0.075,0.312,0.136,0.039,-0.185,-0.003,0.075,0.312,0.136,0.039,-0.185,-0.003,0.075,0.312,0.136,0.039,-0.185,-0.003,0.075,0.312,0.136,0.039,-0.185,-0.003,0.075,0.312,0.136,0.039,-0.185,-0.003,0.075,0.312,0.136,0.039,-0.185,-0.003,0.075,0.312,0.136,0.039,-0.185,-0.003,0.075,0.312,0.136,0.039,-0.185,-0.003,0.075,0.312,0.136,0.039,-0.185,-0.003,0.075,0.312,0.136,0.039,-0.185,-0.003,0.075,0.312,0.136,0.039,-0.185,-0.003,0.075,0.312,0.136,0.039,-0.185,-0.003,0.075,0.312,0.136,0.039,-0.185,-0.003,0.075,0.312,0.136,0.039,-0.185,-0.003,0.075,0.312,0.136,0.039,-0.185,-0.003,0.075,0.312,0.136,0.039,-0.185,-0.003,0.075,0.312,0.136,0.039,-0.185,-0.003,0.075,0.312,0.136,0.039,-0.185,-0.01],
"N = 100":[0.166,0.2,0.312,0.08,-0.016,-0.234,-0.058,0.075,0.312,0.136,0.039,-0.179,-0.003,0.075,0.312,0.136,0.039,-0.179,-0.003,0.075,0.312,0.136,0.039,-0.179,-0.003,0.075,0.312,0.136,0.039,-0.179,-0.003,0.075,0.312,0.136,0.039,-0.179,-0.003,0.075,0.312,0.136,0.039,-0.179,-0.003,0.075,0.312,0.136,0.039,-0.179,-0.003,0.075,0.312,0.136,0.039,-0.179,-0.003,0.075,0.312,0.136,0.039,-0.179,-0.003,0.075,0.312,0.136,0.039,-0.179,-0.003,0.075,0.312,0.136,0.039,-0.179,-0.003,0.075,0.312,0.136,0.039,-0.179,-0.003,0.075,0.312,0.136,0.039,-0.179,-0.003,0.075,0.312,0.136,0.039,-0.179,-0.003,0.075,0.312,0.136,0.039,-0.179,-0.003,0.075,0.312,0.136,0.039,-0.179,-0.003,0.075,0.312,0.136,0.039,-0.179,-0.003,0.075,0.312,0.136,0.039,-0.179,-0.003,0.075,0.312,0.136,0.039,-0.179,-0.01]},
{"v":"x10",
"t":[0,0.3,0.5,0.74,1.13,1.38,1.74,2.1,2.3,2.74,3.13,3.38,3.74,4.1,4.3,4.74,5.13,5.38,5.74,6.1,6.3,6.74,7.13,7.38,7.74,8.1,8.3,8.74,9.13,9.38,9.74,10.1,10.3,10.74,11.13,11.38,11.74,12.1,12.3,12.74,13.13,13.38,13.74,14.1,14.3,14.74,15.13,15.38,15.74,16.1,16.3,16.74,17.13,17.38,17.74,18.1,18.3,18.74,19.13,19.38,19.74,20.1,20.3,20.74,21.13,21.38,21.74,22.1,22.3,22.74,23.13,23.38,23.74,24.1,24.3,24.74,25.13,25.38,25.74,26.1,26.3,26.74,27.13,27.38,27.74,28.1,28.3,28.74,29.13,29.38,29.74,30.1,30.3,30.74,31.13,31.38,31.74,32.1,32.3,32.74,33.13,33.38,33.74,34.1,34.3,34.74,35.13,35.38,35.74,36.1,36.3,36.74,37.13,37.38,37.74,38.1,38.3,38.74,39.13,39.38,39.74,39.95],
"N = 5":[0.156,0.17,0.18,0.18,0.15,0.12,0.098,0.144,0.179,0.206,0.154,0.117,0.098,0.144,0.179,0.206,0.154,0.117,0.098,0.144,0.179,0.206,0.154,0.117,0.098,0.144,0.179,0.206,0.154,0.117,0.098,0.144,0.179,0.206,0.154,0.117,0.098,0.144,0.179,0.206,0.154,0.117,0.098,0.144,0.179,0.206,0.154,0.117,0.098,0.144,0.179,0.206,0.154,0.117,0.098,0.144,0.179,0.206,0.154,0.117,0.098,0.144,0.179,0.206,0.154,0.117,0.098,0.144,0.179,0.206,0.154,0.117,0.098,0.144,0.179,0.206,0.154,0.117,0.098,0.144,0.179,0.206,0.154,0.117,0.098,0.144,0.179,0.206,0.154,0.117,0.098,0.144,0.179,0.206,0.154,0.117,0.098,0.144,0.179,0.206,0.154,0.117,0.098,0.144,0.179,0.206,0.154,0.117,0.098,0.144,0.179,0.206,0.154,0.117,0.098,0.144,0.179,0.206,0.154,0.117,0.098,0.12],
"N = 25":[0.156,0.22,0.29,0.344,0,-0.09,-0.25,-0.013,0.091,0.325,0.033,-0.065,-0.225,-0.013,0.091,0.325,0.033,-0.065,-0.225,-0.013,0.091,0.325,0.033,-0.065,-0.225,-0.013,0.091,0.325,0.033,-0.065,-0.225,-0.013,0.091,0.325,0.033,-0.065,-0.225,-0.013,0.091,0.325,0.033,-0.065,-0.225,-0.013,0.091,0.325,0.033,-0.065,-0.225,-0.013,0.091,0.325,0.033,-0.065,-0.225,-0.013,0.091,0.325,0.033,-0.065,-0.225,-0.013,0.091,0.325,0.033,-0.065,-0.225,-0.013,0.091,0.325,0.033,-0.065,-0.225,-0.013,0.091,0.325,0.033,-0.065,-0.225,-0.013,0.091,0.325,0.033,-0.065,-0.225,-0.013,0.091,0.325,0.033,-0.065,-0.225,-0.013,0.091,0.325,0.033,-0.065,-0.225,-0.013,0.091,0.325,0.033,-0.065,-0.225,-0.013,0.091,0.325,0.033,-0.065,-0.225,-0.013,0.091,0.325,0.033,-0.065,-0.225,-0.013,0.091,0.325,0.033,-0.065,-0.225,-0.12],
"N = 50":[0.156,0.2,0.28,0.344,-0.005,-0.087,-0.245,-0.013,0.091,0.33,0.033,-0.065,-0.22,-0.013,0.091,0.33,0.033,-0.065,-0.22,-0.013,0.091,0.33,0.033,-0.065,-0.22,-0.013,0.091,0.33,0.033,-0.065,-0.22,-0.013,0.091,0.33,0.033,-0.065,-0.22,-0.013,0.091,0.33,0.033,-0.065,-0.22,-0.013,0.091,0.33,0.033,-0.065,-0.22,-0.013,0.091,0.33,0.033,-0.065,-0.22,-0.013,0.091,0.33,0.033,-0.065,-0.22,-0.013,0.091,0.33,0.033,-0.065,-0.22,-0.013,0.091,0.33,0.033,-0.065,-0.22,-0.013,0.091,0.33,0.033,-0.065,-0.22,-0.013,0.091,0.33,0.033,-0.065,-0.22,-0.013,0.091,0.33,0.033,-0.065,-0.22,-0.013,0.091,0.33,0.033,-0.065,-0.22,-0.013,0.091,0.33,0.033,-0.065,-0.22,-0.013,0.091,0.33,0.033,-0.065,-0.22,-0.013,0.091,0.33,0.033,-0.065,-0.22,-0.013,0.091,0.33,0.033,-0.065,-0.22,-0.12],
"N = 100":[0.156,0.165,0.19,0.312,-0.013,-0.084,-0.24,-0.013,0.091,0.325,0.033,-0.065,-0.214,-0.013,0.091,0.325,0.033,-0.065,-0.214,-0.013,0.091,0.325,0.033,-0.065,-0.214,-0.013,0.091,0.325,0.033,-0.065,-0.214,-0.013,0.091,0.325,0.033,-0.065,-0.214,-0.013,0.091,0.325,0.033,-0.065,-0.214,-0.013,0.091,0.325,0.033,-0.065,-0.214,-0.013,0.091,0.325,0.033,-0.065,-0.214,-0.013,0.091,0.325,0.033,-0.065,-0.214,-0.013,0.091,0.325,0.033,-0.065,-0.214,-0.013,0.091,0.325,0.033,-0.065,-0.214,-0.013,0.091,0.325,0.033,-0.065,-0.214,-0.013,0.091,0.325,0.033,-0.065,-0.214,-0.013,0.091,0.325,0.033,-0.065,-0.214,-0.013,0.091,0.325,0.033,-0.065,-0.214,-0.013,0.091,0.325,0.033,-0.065,-0.214,-0.013,0.091,0.325,0.033,-0.065,-0.214,-0.013,0.091,0.325,0.033,-0.065,-0.214,-0.013,0.091,0.325,0.033,-0.065,-0.214,-0.12]},
{"v":"x11",
"t":[0,0.27,0.55,0.86,1.3,1.6,1.9,2.27,2.55,2.86,3.3,3.6,3.9,4.27,4.55,4.86,5.3,5.6,5.9,6.27,6.55,6.86,7.3,7.6,7.9,8.27,8.55,8.86,9.3,9.6,9.9,10.27,10.55,10.86,11.3,11.6,11.9,12.27,12.55,12.86,13.3,13.6,13.9,14.27,14.55,14.86,15.3,15.6,15.9,16.27,16.55,16.86,17.3,17.6,17.9,18.27,18.55,18.86,19.3,19.6,19.9,20.27,20.55,20.86,21.3,21.6,21.9,22.27,22.55,22.86,23.3,23.6,23.9,24.27,24.55,24.86,25.3,25.6,25.9,26.27,26.55,26.86,27.3,27.6,27.9,28.27,28.55,28.86,29.3,29.6,29.9,30.27,30.55,30.86,31.3,31.6,31.9,32.27,32.55,32.86,33.3,33.6,33.9,34.27,34.55,34.86,35.3,35.6,35.9,36.27,36.55,36.86,37.3,37.6,37.9,38.27,38.55,38.86,39.3,39.6,39.9,39.95],
"N = 5":[0.18,0.19,0.205,0.2,0.15,0.115,0.1,0.163,0.214,0.233,0.165,0.111,0.101,0.163,0.214,0.233,0.165,0.111,0.101,0.163,0.214,0.233,0.165,0.111,0.101,0.163,0.214,0.233,0.165,0.111,0.101,0.163,0.214,0.233,0.165,0.111,0.101,0.163,0.214,0.233,0.165,0.111,0.101,0.163,0.214,0.233,0.165,0.111,0.101,0.163,0.214,0.233,0.165,0.111,0.101,0.163,0.214,0.233,0.165,0.111,0.101,0.163,0.214,0.233,0.165,0.111,0.101,0.163,0.214,0.233,0.165,0.111,0.101,0.163,0.214,0.233,0.165,0.111,0.101,0.163,0.214,0.233,0.165,0.111,0.101,0.163,0.214,0.233,0.165,0.111,0.101,0.163,0.214,0.233,0.165,0.111,0.101,0.163,0.214,0.233,0.165,0.111,0.101,0.163,0.214,0.233,0.165,0.111,0.101,0.163,0.214,0.233,0.165,0.111,0.101,0.163,0.214,0.233,0.165,0.111,0.101,0.102],
"N = 25":[0.18,0.39,0.46,0.49,0.01,-0.115,-0.28,0.048,0.242,0.39,0.012,-0.112,-0.28,0.048,0.242,0.39,0.012,-0.112,-0.28,0.048,0.242,0.39,0.012,-0.112,-0.28,0.048,0.242,0.39,0.012,-0.112,-0.28,0.048,0.242,0.39,0.012,-0.112,-0.28,0.048,0.242,0.39,0.012,-0.112,-0.28,0.048,0.242,0.39,0.012,-0.112,-0.28,0.048,0.242,0.39,0.012,-0.112,-0.28,0.048,0.242,0.39,0.012,-0.112,-0.28,0.048,0.242,0.39,0.012,-0.112,-0.28,0.048,0.242,0.39,0.012,-0.112,-0.28,0.048,0.242,0.39,0.012,-0.112,-0.28,0.048,0.242,0.39,0.012,-0.112,-0.28,0.048,0.242,0.39,0.012,-0.112,-0.28,0.048,0.242,0.39,0.012,-0.112,-0.28,0.048,0.242,0.39,0.012,-0.112,-0.28,0.048,0.242,0.39,0.012,-0.112,-0.28,0.048,0.242,0.39,0.012,-0.112,-0.28,0.048,0.242,0.39,0.012,-0.112,-0.28,-0.26],
"N = 50":[0.18,0.38,0.46,0.49,0,-0.11,-0.275,0.048,0.242,0.395,0.012,-0.112,-0.276,0.048,0.242,0.395,0.012,-0.112,-0.276,0.048,0.242,0.395,0.012,-0.112,-0.276,0.048,0.242,0.395,0.012,-0.112,-0.276,0.048,0.242,0.395,0.012,-0.112,-0.276,0.048,0.242,0.395,0.012,-0.112,-0.276,0.048,0.242,0.395,0.012,-0.112,-0.276,0.048,0.242,0.395,0.012,-0.112,-0.276,0.048,0.242,0.395,0.012,-0.112,-0.276,0.048,0.242,0.395,0.012,-0.112,-0.276,0.048,0.242,0.395,0.012,-0.112,-0.276,0.048,0.242,0.395,0.012,-0.112,-0.276,0.048,0.242,0.395,0.012,-0.112,-0.276,0.048,0.242,0.395,0.012,-0.112,-0.276,0.048,0.242,0.395,0.012,-0.112,-0.276,0.048,0.242,0.395,0.012,-0.112,-0.276,0.048,0.242,0.395,0.012,-0.112,-0.276,0.048,0.242,0.395,0.012,-0.112,-0.276,0.048,0.242,0.395,0.012,-0.112,-0.276,-0.26],
"N = 100":[0.18,0.375,0.437,0.473,-0.006,-0.112,-0.271,0.048,0.242,0.384,0.012,-0.112,-0.271,0.048,0.242,0.384,0.012,-0.112,-0.271,0.048,0.242,0.384,0.012,-0.112,-0.271,0.048,0.242,0.384,0.012,-0.112,-0.271,0.048,0.242,0.384,0.012,-0.112,-0.271,0.048,0.242,0.384,0.012,-0.112,-0.271,0.048,0.242,0.384,0.012,-0.112,-0.271,0.048,0.242,0.384,0.012,-0.112,-0.271,0.048,0.242,0.384,0.012,-0.112,-0.271,0.048,0.242,0.384,0.012,-0.112,-0.271,0.048,0.242,0.384,0.012,-0.112,-0.271,0.048,0.242,0.384,0.012,-0.112,-0.271,0.048,0.242,0.384,0.012,-0.112,-0.271,0.048,0.242,0.384,0.012,-0.112,-0.271,0.048,0.242,0.384,0.012,-0.112,-0.271,0.048,0.242,0.384,0.012,-0.112,-0.271,0.048,0.242,0.384,0.012,-0.112,-0.271,0.048,0.242,0.384,0.012,-0.112,-0.271,0.048,0.242,0.384,0.012,-0.112,-0.271,-0.255]},
{"v":"x12",
"t":[0,0.3,0.6,0.9,1.34,1.63,1.92,2.3,2.6,2.9,3.34,3.63,3.89,4.3,4.6,4.9,5.34,5.63,5.89,6.3,6.6,6.9,7.34,7.63,7.89,8.3,8.6,8.9,9.34,9.63,9.89,10.3,10.6,10.9,11.34,11.63,11.89,12.3,12.6,12.9,13.34,13.63,13.89,14.3,14.6,14.9,15.34,15.63,15.89,16.3,16.6,16.9,17.34,17.63,17.89,18.3,18.6,18.9,19.34,19.63,19.89,20.3,20.6,20.9,21.34,21.63,21.89,22.3,22.6,22.9,23.34,23.63,23.89,24.3,24.6,24.9,25.34,25.63,25.89,26.3,26.6,26.9,27.34,27.63,27.89,28.3,28.6,28.9,29.34,29.63,29.89,30.3,30.6,30.9,31.34,31.63,31.89,32.3,32.6,32.9,33.34,33.63,33.89,34.3,34.6,34.9,35.34,35.63,35.89,36.3,36.6,36.9,37.34,37.63,37.89,38.3,38.6,38.9,39.34,39.63,39.89,39.95],
"N = 5":[0.179,0.19,0.21,0.215,0.17,0.12,0.094,0.129,0.185,0.213,0.168,0.118,0.094,0.129,0.185,0.213,0.168,0.118,0.094,0.129,0.185,0.213,0.168,0.118,0.094,0.129,0.185,0.213,0.168,0.118,0.094,0.129,0.185,0.213,0.168,0.118,0.094,0.129,0.185,0.213,0.168,0.118,0.094,0.129,0.185,0.213,0.168,0.118,0.094,0.129,0.185,0.213,0.168,0.118,0.094,0.129,0.185,0.213,0.168,0.118,0.094,0.129,0.185,0.213,0.168,0.118,0.094,0.129,0.185,0.213,0.168,0.118,0.094,0.129,0.185,0.213,0.168,0.118,0.094,0.129,0.185,0.213,0.168,0.118,0.094,0.129,0.185,0.213,0.168,0.118,0.094,0.129,0.185,0.213,0.168,0.118,0.094,0.129,0.185,0.213,0.168,0.118,0.094,0.129,0.185,0.213,0.168,0.118,0.094,0.129,0.185,0.213,0.168,0.118,0.094,0.129,0.185,0.213,0.168,0.118,0.094,0.096],
"N = 25":[0.179,0.38,0.47,0.497,0.06,-0.08,-0.27,0.076,0.239,0.385,-0.01,-0.105,-0.23,0.076,0.239,0.385,-0.01,-0.105,-0.23,0.076,0.239,0.385,-0.01,-0.105,-0.23,0.076,0.239,0.385,-0.01,-0.105,-0.23,0.076,0.239,0.385,-0.01,-0.105,-0.23,0.076,0.239,0.385,-0.01,-0.105,-0.23,0.076,0.239,0.385,-0.01,-0.105,-0.23,0.076,0.239,0.385,-0.01,-0.105,-0.23,0.076,0.239,0.385,-0.01,-0.105,-0.23,0.076,0.239,0.385,-0.01,-0.105,-0.23,0.076,0.239,0.385,-0.01,-0.105,-0.23,0.076,0.239,0.385,-0.01,-0.105,-0.23,0.076,0.239,0.385,-0.01,-0.105,-0.23,0.076,0.239,0.385,-0.01,-0.105,-0.23,0.076,0.239,0.385,-0.01,-0.105,-0.23,0.076,0.239,0.385,-0.01,-0.105,-0.23,0.076,0.239,0.385,-0.01,-0.105,-0.23,0.076,0.239,0.385,-0.01,-0.105,-0.23,0.076,0.239,0.385,-0.01,-0.105,-0.23,-0.21],
"N = 50":[0.179,0.37,0.47,0.497,0.05,-0.075,-0.265,0.076,0.239,0.39,-0.01,-0.105,-0.225,0.076,0.239,0.39,-0.01,-0.105,-0.225,0.076,0.239,0.39,-0.01,-0.105,-0.225,0.076,0.239,0.39,-0.01,-0.105,-0.225,0.076,0.239,0.39,-0.01,-0.105,-0.225,0.076,0.239,0.39,-0.01,-0.105,-0.225,0.076,0.239,0.39,-0.01,-0.105,-0.225,0.076,0.239,0.39,-0.01,-0.105,-0.225,0.076,0.239,0.39,-0.01,-0.105,-0.225,0.076,0.239,0.39,-0.01,-0.105,-0.225,0.076,0.239,0.39,-0.01,-0.105,-0.225,0.076,0.239,0.39,-0.01,-0.105,-0.225,0.076,0.239,0.39,-0.01,-0.105,-0.225,0.076,0.239,0.39,-0.01,-0.105,-0.225,0.076,0.239,0.39,-0.01,-0.105,-0.225,0.076,0.239,0.39,-0.01,-0.105,-0.225,0.076,0.239,0.39,-0.01,-0.105,-0.225,0.076,0.239,0.39,-0.01,-0.105,-0.225,0.076,0.239,0.39,-0.01,-0.105,-0.225,-0.21],
"N = 100":[0.179,0.351,0.428,0.463,0.05,-0.071,-0.26,0.076,0.239,0.377,-0.01,-0.105,-0.217,0.076,0.239,0.377,-0.01,-0.105,-0.217,0.076,0.239,0.377,-0.01,-0.105,-0.217,0.076,0.239,0.377,-0.01,-0.105,-0.217,0.076,0.239,0.377,-0.01,-0.105,-0.217,0.076,0.239,0.377,-0.01,-0.105,-0.217,0.076,0.239,0.377,-0.01,-0.105,-0.217,0.076,0.239,0.377,-0.01,-0.105,-0.217,0.076,0.239,0.377,-0.01,-0.105,-0.217,0.076,0.239,0.377,-0.01,-0.105,-0.217,0.076,0.239,0.377,-0.01,-0.105,-0.217,0.076,0.239,0.377,-0.01,-0.105,-0.217,0.076,0.239,0.377,-0.01,-0.105,-0.217,0.076,0.239,0.377,-0.01,-0.105,-0.217,0.076,0.239,0.377,-0.01,-0.105,-0.217,0.076,0.239,0.377,-0.01,-0.105,-0.217,0.076,0.239,0.377,-0.01,-0.105,-0.217,0.076,0.239,0.377,-0.01,-0.105,-0.217,0.076,0.239,0.377,-0.01,-0.105,-0.217,-0.21]},
{"v":"x13",
"t":[0,0.45,0.7,1.03,1.48,1.81,2.06,2.45,2.7,3.03,3.48,3.81,4.06,4.45,4.7,5.03,5.48,5.81,6.06,6.45,6.7,7.03,7.48,7.81,8.06,8.45,8.7,9.03,9.48,9.81,10.06,10.45,10.7,11.03,11.48,11.81,12.06,12.45,12.7,13.03,13.48,13.81,14.06,14.45,14.7,15.03,15.48,15.81,16.06,16.45,16.7,17.03,17.48,17.81,18.06,18.45,18.7,19.03,19.48,19.81,20.06,20.45,20.7,21.03,21.48,21.81,22.06,22.45,22.7,23.03,23.48,23.81,24.06,24.45,24.7,25.03,25.48,25.81,26.06,26.45,26.7,27.03,27.48,27.81,28.06,28.45,28.7,29.03,29.48,29.81,30.06,30.45,30.7,31.03,31.48,31.81,32.06,32.45,32.7,33.03,33.48,33.81,34.06,34.45,34.7,35.03,35.48,35.81,36.06,36.45,36.7,37.03,37.48,37.81,38.06,38.45,38.7,39.03,39.48,39.81,39.95],
"N = 5":[0.162,0.18,0.2,0.2,0.16,0.09,0.063,0.105,0.162,0.195,0.141,0.083,0.063,0.105,0.162,0.195,0.141,0.083,0.063,0.105,0.162,0.195,0.141,0.083,0.063,0.105,0.162,0.195,0.141,0.083,0.063,0.105,0.162,0.195,0.141,0.083,0.063,0.105,0.162,0.195,0.141,0.083,0.063,0.105,0.162,0.195,0.141,0.083,0.063,0.105,0.162,0.195,0.141,0.083,0.063,0.105,0.162,0.195,0.141,0.083,0.063,0.105,0.162,0.195,0.141,0.083,0.063,0.105,0.162,0.195,0.141,0.083,0.063,0.105,0.162,0.195,0.141,0.083,0.063,0.105,0.162,0.195,0.141,0.083,0.063,0.105,0.162,0.195,0.141,0.083,0.063,0.105,0.162,0.195,0.141,0.083,0.063,0.105,0.162,0.195,0.141,0.083,0.063,0.105,0.162,0.195,0.141,0.083,0.063,0.105,0.162,0.195,0.141,0.083,0.063,0.105,0.162,0.195,0.141,0.083,0.07],
"N = 25":[0.162,0.43,0.48,0.488,0,-0.13,-0.235,0.128,0.25,0.345,-0.056,-0.156,-0.235,0.128,0.25,0.345,-0.056,-0.156,-0.235,0.128,0.25,0.345,-0.056,-0.156,-0.235,0.128,0.25,0.345,-0.056,-0.156,-0.235,0.128,0.25,0.345,-0.056,-0.156,-0.235,0.128,0.25,0.345,-0.056,-0.156,-0.235,0.128,0.25,0.345,-0.056,-0.156,-0.235,0.128,0.25,0.345,-0.056,-0.156,-0.235,0.128,0.25,0.345,-0.056,-0.156,-0.235,0.128,0.25,0.345,-0.056,-0.156,-0.235,0.128,0.25,0.345,-0.056,-0.156,-0.235,0.128,0.25,0.345,-0.056,-0.156,-0.235,0.128,0.25,0.345,-0.056,-0.156,-0.235,0.128,0.25,0.345,-0.056,-0.156,-0.235,0.128,0.25,0.345,-0.056,-0.156,-0.235,0.128,0.25,0.345,-0.056,-0.156,-0.235,0.128,0.25,0.345,-0.056,-0.156,-0.235,0.128,0.25,0.345,-0.056,-0.156,-0.235,0.128,0.25,0.345,-0.056,-0.156,-0.19],
"N = 50":[0.162,0.42,0.48,0.49,-0.01,-0.125,-0.225,0.128,0.26,0.36,-0.056,-0.156,-0.225,0.128,0.26,0.36,-0.056,-0.156,-0.225,0.128,0.26,0.36,-0.056,-0.156,-0.225,0.128,0.26,0.36,-0.056,-0.156,-0.225,0.128,0.26,0.36,-0.056,-0.156,-0.225,0.128,0.26,0.36,-0.056,-0.156,-0.225,0.128,0.26,0.36,-0.056,-0.156,-0.225,0.128,0.26,0.36,-0.056,-0.156,-0.225,0.128,0.26,0.36,-0.056,-0.156,-0.225,0.128,0.26,0.36,-0.056,-0.156,-0.225,0.128,0.26,0.36,-0.056,-0.156,-0.225,0.128,0.26,0.36,-0.056,-0.156,-0.225,0.128,0.26,0.36,-0.056,-0.156,-0.225,0.128,0.26,0.36,-0.056,-0.156,-0.225,0.128,0.26,0.36,-0.056,-0.156,-0.225,0.128,0.26,0.36,-0.056,-0.156,-0.225,0.128,0.26,0.36,-0.056,-0.156,-0.225,0.128,0.26,0.36,-0.056,-0.156,-0.225,0.128,0.26,0.36,-0.056,-0.156,-0.19],
"N = 100":[0.162,0.39,0.44,0.454,-0.014,-0.122,-0.214,0.128,0.245,0.329,-0.056,-0.156,-0.214,0.128,0.245,0.329,-0.056,-0.156,-0.214,0.128,0.245,0.329,-0.056,-0.156,-0.214,0.128,0.245,0.329,-0.056,-0.156,-0.214,0.128,0.245,0.329,-0.056,-0.156,-0.214,0.128,0.245,0.329,-0.056,-0.156,-0.214,0.128,0.245,0.329,-0.056,-0.156,-0.214,0.128,0.245,0.329,-0.056,-0.156,-0.214,0.128,0.245,0.329,-0.056,-0.156,-0.214,0.128,0.245,0.329,-0.056,-0.156,-0.214,0.128,0.245,0.329,-0.056,-0.156,-0.214,0.128,0.245,0.329,-0.056,-0.156,-0.214,0.128,0.245,0.329,-0.056,-0.156,-0.214,0.128,0.245,0.329,-0.056,-0.156,-0.214,0.128,0.245,0.329,-0.056,-0.156,-0.214,0.128,0.245,0.329,-0.056,-0.156,-0.214,0.128,0.245,0.329,-0.056,-0.156,-0.214,0.128,0.245,0.329,-0.056,-0.156,-0.214,0.128,0.245,0.329,-0.056,-0.156,-0.19]},
{"v":"x14",
"t":[0,0.3,0.6,0.9,1.3,1.55,1.8,2.3,2.6,2.9,3.3,3.55,3.8,4.3,4.6,4.9,5.3,5.55,5.8,6.3,6.6,6.9,7.3,7.55,7.8,8.3,8.6,8.9,9.3,9.55,9.8,10.3,10.6,10.9,11.3,11.55,11.8,12.3,12.6,12.9,13.3,13.55,13.8,14.3,14.6,14.9,15.3,15.55,15.8,16.3,16.6,16.9,17.3,17.55,17.8,18.3,18.6,18.9,19.3,19.55,19.8,20.3,20.6,20.9,21.3,21.55,21.8,22.3,22.6,22.9,23.3,23.55,23.8,24.3,24.6,24.9,25.3,25.55,25.8,26.3,26.6,26.9,27.3,27.55,27.8,28.3,28.6,28.9,29.3,29.55,29.8,30.3,30.6,30.9,31.3,31.55,31.8,32.3,32.6,32.9,33.3,33.55,33.8,34.3,34.6,34.9,35.3,35.55,35.8,36.3,36.6,36.9,37.3,37.55,37.8,38.3,38.6,38.9,39.3,39.55,39.8,39.95],
"N = 5":[0.183,0.185,0.2,0.21,0.2,0.16,0.12,0.075,0.101,0.141,0.152,0.133,0.103,0.075,0.101,0.141,0.152,0.133,0.103,0.075,0.101,0.141,0.152,0.133,0.103,0.075,0.101,0.141,0.152,0.133,0.103,0.075,0.101,0.141,0.152,0.133,0.103,0.075,0.101,0.141,0.152,0.133,0.103,0.075,0.101,0.141,0.152,0.133,0.103,0.075,0.101,0.141,0.152,0.133,0.103,0.075,0.101,0.141,0.152,0.133,0.103,0.075,0.101,0.141,0.152,0.133,0.103,0.075,0.101,0.141,0.152,0.133,0.103,0.075,0.101,0.141,0.152,0.133,0.103,0.075,0.101,0.141,0.152,0.133,0.103,0.075,0.101,0.141,0.152,0.133,0.103,0.075,0.101,0.141,0.152,0.133,0.103,0.075,0.101,0.141,0.152,0.133,0.103,0.075,0.101,0.141,0.152,0.133,0.103,0.075,0.101,0.141,0.152,0.133,0.103,0.075,0.101,0.141,0.152,0.133,0.103,0.09],
"N = 25":[0.183,0.17,0.37,0.52,0.52,-0.03,-0.17,-0.26,0.1,0.3,0.33,0,-0.225,-0.26,0.1,0.3,0.33,0,-0.225,-0.26,0.1,0.3,0.33,0,-0.225,-0.26,0.1,0.3,0.33,0,-0.225,-0.26,0.1,0.3,0.33,0,-0.225,-0.26,0.1,0.3,0.33,0,-0.225,-0.26,0.1,0.3,0.33,0,-0.225,-0.26,0.1,0.3,0.33,0,-0.225,-0.26,0.1,0.3,0.33,0,-0.225,-0.26,0.1,0.3,0.33,0,-0.225,-0.26,0.1,0.3,0.33,0,-0.225,-0.26,0.1,0.3,0.33,0,-0.225,-0.26,0.1,0.3,0.33,0,-0.225,-0.26,0.1,0.3,0.33,0,-0.225,-0.26,0.1,0.3,0.33,0,-0.225,-0.26,0.1,0.3,0.33,0,-0.225,-0.26,0.1,0.3,0.33,0,-0.225,-0.26,0.1,0.3,0.33,0,-0.225,-0.26,0.1,0.3,0.33,0,-0.225,-0.245],
"N = 50":[0.183,0.16,0.39,0.54,0.54,-0.035,-0.16,-0.265,0.1,0.32,0.36,0,-0.23,-0.265,0.1,0.32,0.36,0,-0.23,-0.265,0.1,0.32,0.36,0,-0.23,-0.265,0.1,0.32,0.36,0,-0.23,-0.265,0.1,0.32,0.36,0,-0.23,-0.265,0.1,0.32,0.36,0,-0.23,-0.265,0.1,0.32,0.36,0,-0.23,-0.265,0.1,0.32,0.36,0,-0.23,-0.265,0.1,0.32,0.36,0,-0.23,-0.265,0.1,0.32,0.36,0,-0.23,-0.265,0.1,0.32,0.36,0,-0.23,-0.265,0.1,0.32,0.36,0,-0.23,-0.265,0.1,0.32,0.36,0,-0.23,-0.265,0.1,0.32,0.36,0,-0.23,-0.265,0.1,0.32,0.36,0,-0.23,-0.265,0.1,0.32,0.36,0,-0.23,-0.265,0.1,0.32,0.36,0,-0.23,-0.265,0.1,0.32,0.36,0,-0.23,-0.265,0.1,0.32,0.36,0,-0.23,-0.25],
"N = 100":[0.183,0.129,0.338,0.474,0.474,-0.04,-0.16,-0.25,0.1,0.28,0.3,0,-0.22,-0.25,0.1,0.28,0.3,0,-0.22,-0.25,0.1,0.28,0.3,0,-0.22,-0.25,0.1,0.28,0.3,0,-0.22,-0.25,0.1,0.28,0.3,0,-0.22,-0.25,0.1,0.28,0.3,0,-0.22,-0.25,0.1,0.28,0.3,0,-0.22,-0.25,0.1,0.28,0.3,0,-0.22,-0.25,0.1,0.28,0.3,0,-0.22,-0.25,0.1,0.28,0.3,0,-0.22,-0.25,0.1,0.28,0.3,0,-0.22,-0.25,0.1,0.28,0.3,0,-0.22,-0.25,0.1,0.28,0.3,0,-0.22,-0.25,0.1,0.28,0.3,0,-0.22,-0.25,0.1,0.28,0.3,0,-0.22,-0.25,0.1,0.28,0.3,0,-0.22,-0.25,0.1,0.28,0.3,0,-0.22,-0.25,0.1,0.28,0.3,0,-0.22,-0.25,0.1,0.28,0.3,0,-0.22,-0.24]},
{"v":"x15",
"t":[0,0.25,0.5,0.8,1.1,1.4,1.7,2.1,2.45,2.8,3.1,3.45,3.8,4.1,4.45,4.8,5.1,5.45,5.8,6.1,6.45,6.8,7.1,7.45,7.8,8.1,8.45,8.8,9.1,9.45,9.8,10.1,10.45,10.8,11.1,11.45,11.8,12.1,12.45,12.8,13.1,13.45,13.8,14.1,14.45,14.8,15.1,15.45,15.8,16.1,16.45,16.8,17.1,17.45,17.8,18.1,18.45,18.8,19.1,19.45,19.8,20.1,20.45,20.8,21.1,21.45,21.8,22.1,22.45,22.8,23.1,23.45,23.8,24.1,24.45,24.8,25.1,25.45,25.8,26.1,26.45,26.8,27.1,27.45,27.8,28.1,28.45,28.8,29.1,29.45,29.8,30.1,30.45,30.8,31.1,31.45,31.8,32.1,32.45,32.8,33.1,33.45,33.8,34.1,34.45,34.8,35.1,35.45,35.8,36.1,36.45,36.8,37.1,37.45,37.8,38.1,38.45,38.8,39.1,39.45,39.8,39.95],
"N = 5":[0.175,0.18,0.18,0.19,0.2,0.19,0.15,0.11,0.086,0.127,0.181,0.206,0.164,0.11,0.086,0.127,0.181,0.206,0.164,0.11,0.086,0.127,0.181,0.206,0.164,0.11,0.086,0.127,0.181,0.206,0.164,0.11,0.086,0.127,0.181,0.206,0.164,0.11,0.086,0.127,0.181,0.206,0.164,0.11,0.086,0.127,0.181,0.206,0.164,0.11,0.086,0.127,0.181,0.206,0.164,0.11,0.086,0.127,0.181,0.206,0.164,0.11,0.086,0.127,0.181,0.206,0.164,0.11,0.086,0.127,0.181,0.206,0.164,0.11,0.086,0.127,0.181,0.206,0.164,0.11,0.086,0.127,0.181,0.206,0.164,0.11,0.086,0.127,0.181,0.206,0.164,0.11,0.086,0.127,0.181,0.206,0.164,0.11,0.086,0.127,0.181,0.206,0.164,0.11,0.086,0.127,0.181,0.206,0.164,0.11,0.086,0.127,0.181,0.206,0.164,0.11,0.086,0.127,0.181,0.206,0.164,0.155],
"N = 25":[0.175,0.2,0.19,0.48,0.575,0.57,0.1,-0.26,-0.24,0.2,0.39,0.4,-0.06,-0.26,-0.24,0.2,0.39,0.4,-0.06,-0.26,-0.24,0.2,0.39,0.4,-0.06,-0.26,-0.24,0.2,0.39,0.4,-0.06,-0.26,-0.24,0.2,0.39,0.4,-0.06,-0.26,-0.24,0.2,0.39,0.4,-0.06,-0.26,-0.24,0.2,0.39,0.4,-0.06,-0.26,-0.24,0.2,0.39,0.4,-0.06,-0.26,-0.24,0.2,0.39,0.4,-0.06,-0.26,-0.24,0.2,0.39,0.4,-0.06,-0.26,-0.24,0.2,0.39,0.4,-0.06,-0.26,-0.24,0.2,0.39,0.4,-0.06,-0.26,-0.24,0.2,0.39,0.4,-0.06,-0.26,-0.24,0.2,0.39,0.4,-0.06,-0.26,-0.24,0.2,0.39,0.4,-0.06,-0.26,-0.24,0.2,0.39,0.4,-0.06,-0.26,-0.24,0.2,0.39,0.4,-0.06,-0.26,-0.24,0.2,0.39,0.4,-0.06,-0.26,-0.24,0.2,0.39,0.4,-0.06,-0.16],
"N = 50":[0.175,0.19,0.18,0.5,0.59,0.585,0.1,-0.28,-0.26,0.2,0.42,0.44,-0.06,-0.28,-0.26,0.2,0.42,0.44,-0.06,-0.28,-0.26,0.2,0.42,0.44,-0.06,-0.28,-0.26,0.2,0.42,0.44,-0.06,-0.28,-0.26,0.2,0.42,0.44,-0.06,-0.28,-0.26,0.2,0.42,0.44,-0.06,-0.28,-0.26,0.2,0.42,0.44,-0.06,-0.28,-0.26,0.2,0.42,0.44,-0.06,-0.28,-0.26,0.2,0.42,0.44,-0.06,-0.28,-0.26,0.2,0.42,0.44,-0.06,-0.28,-0.26,0.2,0.42,0.44,-0.06,-0.28,-0.26,0.2,0.42,0.44,-0.06,-0.28,-0.26,0.2,0.42,0.44,-0.06,-0.28,-0.26,0.2,0.42,0.44,-0.06,-0.28,-0.26,0.2,0.42,0.44,-0.06,-0.28,-0.26,0.2,0.42,0.44,-0.06,-0.28,-0.26,0.2,0.42,0.44,-0.06,-0.28,-0.26,0.2,0.42,0.44,-0.06,-0.28,-0.26,0.2,0.42,0.44,-0.06,-0.16],
"N = 100":[0.175,0.22,0.165,0.46,0.559,0.55,0.085,-0.24,-0.22,0.2,0.36,0.36,-0.06,-0.24,-0.22,0.2,0.36,0.36,-0.06,-0.24,-0.22,0.2,0.36,0.36,-0.06,-0.24,-0.22,0.2,0.36,0.36,-0.06,-0.24,-0.22,0.2,0.36,0.36,-0.06,-0.24,-0.22,0.2,0.36,0.36,-0.06,-0.24,-0.22,0.2,0.36,0.36,-0.06,-0.24,-0.22,0.2,0.36,0.36,-0.06,-0.24,-0.22,0.2,0.36,0.36,-0.06,-0.24,-0.22,0.2,0.36,0.36,-0.06,-0.24,-0.22,0.2,0.36,0.36,-0.06,-0.24,-0.22,0.2,0.36,0.36,-0.06,-0.24,-0.22,0.2,0.36,0.36,-0.06,-0.24,-0.22,0.2,0.36,0.36,-0.06,-0.24,-0.22,0.2,0.36,0.36,-0.06,-0.24,-0.22,0.2,0.36,0.36,-0.06,-0.24,-0.22,0.2,0.36,0.36,-0.06,-0.24,-0.22,0.2,0.36,0.36,-0.06,-0.24,-0.22,0.2,0.36,0.36,-0.06,-0.16]}
]},
"transform":[
{"flatten":["t","N = 5","N = 25","N = 50","N = 100"]},
{"fold":["N = 5","N = 25","N = 50","N = 100"],"as":["N","y"]}
],
"vconcat":[
{"width":1780,"height":23,"transform":[{"filter":"datum.v=='x1'"}],"mark":"line","encoding":{"x":{"field":"t","type":"quantitative","scale":{"domain":[-1.9975,41.9475],"nice":false,"zero":false},"axis":{"values":[0,5,10,15,20,25,30,35,40],"labels":false,"title":null}},"y":{"field":"y","type":"quantitative","scale":{"domain":[-0.0625,0.297],"nice":false,"zero":false},"axis":{"values":[0,0.25],"format":".2f","title":"x1"}},"color":{"field":"N","type":"nominal","scale":{"domain":["N = 5","N = 25","N = 50","N = 100"],"range":["#1f77b4","#ff7f0e","#2ca02c","#d62728"]},"legend":{"title":null}}}},
{"width":1780,"height":23,"transform":[{"filter":"datum.v=='x2'"}],"mark":"line","encoding":{"x":{"field":"t","type":"quantitative","scale":{"domain":[-1.9975,41.9475],"nice":false,"zero":false},"axis":{"values":[0,5,10,15,20,25,30,35,40],"labels":false,"title":null}},"y":{"field":"y","type":"quantitative","scale":{"domain":[-0.077,0.287],"nice":false,"zero":false},"axis":{"values":[0,0.25],"format":".2f","title":"x2"}},"color":{"field":"N","type":"nominal","scale":{"domain":["N = 5","N = 25","N = 50","N = 100"],"range":["#1f77b4","#ff7f0e","#2ca02c","#d62728"]},"legend":{"title":null}}}},
{"width":1780,"height":23,"transform":[{"filter":"datum.v=='x3'"}],"mark":"line","encoding":{"x":{"field":"t","type":"quantitative","scale":{"domain":[-1.9975,41.9475],"nice":false,"zero":false},"axis":{"values":[0,5,10,15,20,25,30,35,40],"labels":false,"title":null}},"y":{"field":"y","type":"quantitative","scale":{"domain":[-0.076,0.276],"nice":false,"zero":false},"axis":{"values":[0,0.25],"format":".2f","title":"x3"}},"color":{"field":"N","type":"nominal","scale":{"domain":["N = 5","N = 25","N = 50","N = 100"],"range":["#1f77b4","#ff7f0e","#2ca02c","#d62728"]},"legend":{"title":null}}}},
{"width":1780,"height":23,"transform":[{"filter":"datum.v=='x4'"}],"mark":"line","encoding":{"x":{"field":"t","type":"quantitative","scale":{"domain":[-1.9975,41.9475],"nice":false,"zero":false},"axis":{"values":[0,5,10,15,20,25,30,35,40],"labels":false,"title":null}},"y":{"field":"y","type":"quantitative","scale":{"domain":[-0.087,0.277],"nice":false,"zero":false},"axis":{"values":[0,0.25],"format":".2f","title":"x4"}},"color":{"field":"N","type":"nominal","scale":{"domain":["N = 5","N = 25","N = 50","N = 100"],"range":["#1f77b4","#ff7f0e","#2ca02c","#d62728"]},"legend":{"title":null}}}},
{"width":1780,"height":23,"transform":[{"filter":"datum.v=='x5'"}],"mark":"line","encoding":{"x":{"field":"t","type":"quantitative","scale":{"domain":[-1.9975,41.9475],"nice":false,"zero":false},"axis":{"values":[0,5,10,15,20,25,30,35,40],"labels":false,"title":null}},"y":{"field":"y","type":"quantitative","scale":{"domain":[-0.097,0.272],"nice":false,"zero":false},"axis":{"values":[0,0.25],"format":".2f","title":"x5"}},"color":{"field":"N","type":"nominal","scale":{"domain":["N = 5","N = 25","N = 50","N = 100"],"range":["#1f77b4","#ff7f0e","#2ca02c","#d62728"]},"legend":{"title":null}}}},
{"width":1780,"height":23,"transform":[{"filter":"datum.v=='x6'"}],"mark":"line","encoding":{"x":{"field":"t","type":"quantitative","scale":{"domain":[-1.9975,41.9475],"nice":false,"zero":false},"axis":{"values":[0,5,10,15,20,25,30,35,40],"labels":false,"title":null}},"y":{"field":"y","type":"quantitative","scale":{"domain":[-0.255,0.295],"nice":false,"zero":false},"axis":{"values":[-0.25,0,0.25],"format":".2f","title":"x6"}},"color":{"field":"N","type":"nominal","scale":{"domain":["N = 5","N = 25","N = 50","N = 100"],"range":["#1f77b4","#ff7f0e","#2ca02c","#d62728"]},"legend":{"title":null}}}},
{"width":1780,"height":23,"transform":[{"filter":"datum.v=='x7'"}],"mark":"line","encoding":{"x":{"field":"t","type":"quantitative","scale":{"domain":[-1.9975,41.9475],"nice":false,"zero":false},"axis":{"values":[0,5,10,15,20,25,30,35,40],"labels":false,"title":null}},"y":{"field":"y","type":"quantitative","scale":{"domain":[-0.15,0.29],"nice":false,"zero":false},"axis":{"values":[0,0.25],"format":".2f","title":"x7"}},"color":{"field":"N","type":"nominal","scale":{"domain":["N = 5","N = 25","N = 50","N = 100"],"range":["#1f77b4","#ff7f0e","#2ca02c","#d62728"]},"legend":{"title":null}}}},
{"width":1780,"height":23,"transform":[{"filter":"datum.v=='x8'"}],"mark":"line","encoding":{"x":{"field":"t","type":"quantitative","scale":{"domain":[-1.9975,41.9475],"nice":false,"zero":false},"axis":{"values":[0,5,10,15,20,25,30,35,40],"labels":false,"title":null}},"y":{"field":"y","type":"quantitative","scale":{"domain":[-0.15,0.29],"nice":false,"zero":false},"axis":{"values":[0,0.25],"format":".2f","title":"x8"}},"color":{"field":"N","type":"nominal","scale":{"domain":["N = 5","N = 25","N = 50","N = 100"],"range":["#1f77b4","#ff7f0e","#2ca02c","#d62728"]},"legend":{"title":null}}}},
{"width":1780,"height":23,"transform":[{"filter":"datum.v=='x9'"}],"mark":"line","encoding":{"x":{"field":"t","type":"quantitative","scale":{"domain":[-1.9975,41.9475],"nice":false,"zero":false},"axis":{"values":[0,5,10,15,20,25,30,35,40],"labels":false,"title":null}},"y":{"field":"y","type":"quantitative","scale":{"domain":[-0.258,0.348],"nice":false,"zero":false},"axis":{"values":[-0.25,0,0.25],"format":".2f","title":"x9"}},"color":{"field":"N","type":"nominal","scale":{"domain":["N = 5","N = 25","N = 50","N = 100"],"range":["#1f77b4","#ff7f0e","#2ca02c","#d62728"]},"legend":{"title":null}}}},
{"width":1780,"height":23,"transform":[{"filter":"datum.v=='x10'"}],"mark":"line","encoding":{"x":{"field":"t","type":"quantitative","scale":{"domain":[-1.9975,41.9475],"nice":false,"zero":false},"axis":{"values":[0,5,10,15,20,25,30,35,40],"labels":false,"title":null}},"y":{"field":"y","type":"quantitative","scale":{"domain":[-0.28,0.37],"nice":false,"zero":false},"axis":{"values":[-0.25,0,0.25],"format":".2f","title":"x10"}},"color":{"field":"N","type":"nominal","scale":{"domain":["N = 5","N = 25","N = 50","N = 100"],"range":["#1f77b4","#ff7f0e","#2ca02c","#d62728"]},"legend":{"title":null}}}},
{"width":1780,"height":23,"transform":[{"filter":"datum.v=='x11'"}],"mark":"line","encoding":{"x":{"field":"t","type":"quantitative","scale":{"domain":[-1.9975,41.9475],"nice":false,"zero":false},"axis":{"values":[0,5,10,15,20,25,30,35,40],"labels":false,"title":null}},"y":{"field":"y","type":"quantitative","scale":{"domain":[-0.33,0.53],"nice":false,"zero":false},"axis":{"values":[0,0.5],"format":".1f","title":"x11"}},"color":{"field":"N","type":"nominal","scale":{"domain":["N = 5","N = 25","N = 50","N = 100"],"range":["#1f77b4","#ff7f0e","#2ca02c","#d62728"]},"legend":{"title":null}}}},
{"width":1780,"height":23,"transform":[{"filter":"datum.v=='x12'"}],"mark":"line","encoding":{"x":{"field":"t","type":"quantitative","scale":{"domain":[-1.9975,41.9475],"nice":false,"zero":false},"axis":{"values":[0,5,10,15,20,25,30,35,40],"labels":false,"title":null}},"y":{"field":"y","type":"quantitative","scale":{"domain":[-0.32,0.54],"nice":false,"zero":false},"axis":{"values":[0,0.5],"format":".1f","title":"x12"}},"color":{"field":"N","type":"nominal","scale":{"domain":["N = 5","N = 25","N = 50","N = 100"],"range":["#1f77b4","#ff7f0e","#2ca02c","#d62728"]},"legend":{"title":null}}}},
{"width":1780,"height":23,"transform":[{"filter":"datum.v=='x13'"}],"mark":"line","encoding":{"x":{"field":"t","type":"quantitative","scale":{"domain":[-1.9975,41.9475],"nice":false,"zero":false},"axis":{"values":[0,5,10,15,20,25,30,35,40],"labels":false,"title":null}},"y":{"field":"y","type":"quantitative","scale":{"domain":[-0.298,0.538],"nice":false,"zero":false},"axis":{"values":[0,0.5],"format":".1f","title":"x13"}},"color":{"field":"N","type":"nominal","scale":{"domain":["N = 5","N = 25","N = 50","N = 100"],"range":["#1f77b4","#ff7f0e","#2ca02c","#d62728"]},"legend":{"title":null}}}},
{"width":1780,"height":23,"transform":[{"filter":"datum.v=='x14'"}],"mark":"line","encoding":{"x":{"field":"t","type":"quantitative","scale":{"domain":[-1.9975,41.9475],"nice":false,"zero":false},"axis":{"values":[0,5,10,15,20,25,30,35,40],"labels":false,"title":null}},"y":{"field":"y","type":"quantitative","scale":{"domain":[-0.316,0.592],"nice":false,"zero":false},"axis":{"values":[0,0.5],"format":".1f","title":"x14"}},"color":{"field":"N","type":"nominal","scale":{"domain":["N = 5","N = 25","N = 50","N = 100"],"range":["#1f77b4","#ff7f0e","#2ca02c","#d62728"]},"legend":{"title":null}}}},
{"width":1780,"height":23,"transform":[{"filter":"datum.v=='x15'"}],"mark":"line","encoding":{"x":{"field":"t","type":"quantitative","scale":{"domain":[-1.9975,41.9475],"nice":false,"zero":false},"axis":{"values":[0,5,10,15,20,25,30,35,40],"labels":false,"title":"time [s]"}},"y":{"field":"y","type":"quantitative","scale":{"domain":[-0.36,0.63],"nice":false,"zero":false},"axis":{"values":[0,0.5],"format":".1f","title":"x15"}},"color":{"field":"N","type":"nominal","scale":{"domain":["N = 5","N = 25","N = 50","N = 100"],"range":["#1f77b4","#ff7f0e","#2ca02c","#d62728"]},"legend":{"title":null}}}}
]
}
